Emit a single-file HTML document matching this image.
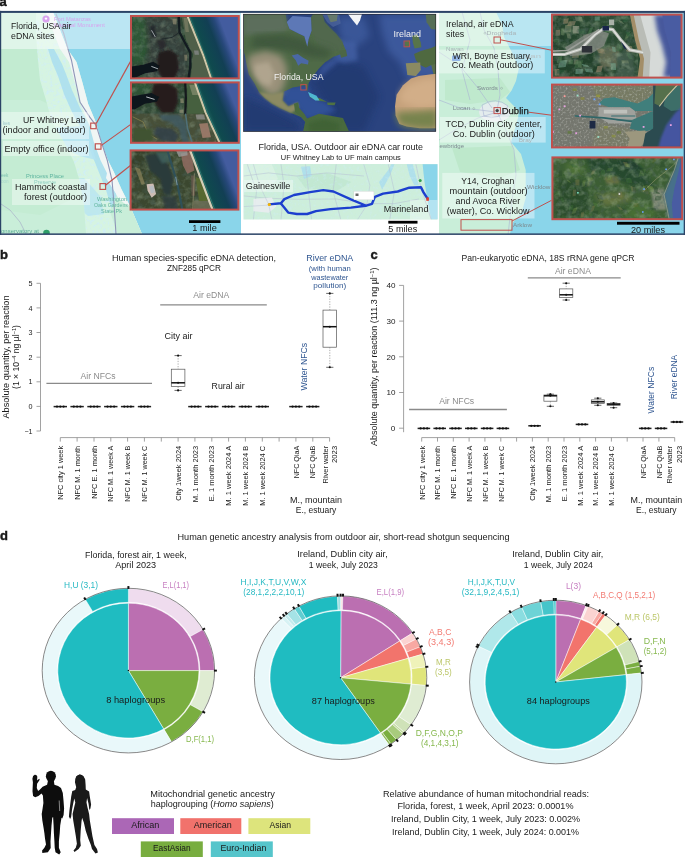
<!DOCTYPE html>
<html><head><meta charset="utf-8"><title>Figure</title>
<style>
html,body{margin:0;padding:0;background:#fff;}
svg{display:block;opacity:0.9999;will-change:opacity;}
text{font-family:"Liberation Sans",sans-serif;fill:#1a1a1a;}
.b{font-weight:bold;}
.g{fill:#8c8c8c;}
.bl{fill:#2e5590;}
</style></head><body>
<svg width="685" height="857" viewBox="0 0 685 857">
<defs>
<filter id="tx" x="0" y="0" width="100%" height="100%"><feTurbulence type="fractalNoise" baseFrequency="0.35" numOctaves="2" seed="3" result="n"/><feColorMatrix in="n" type="matrix" values="0 0 0 0 0  0 0 0 0 0  0 0 0 0 0  0.9 0 0 0 -0.25" result="a"/><feComposite in="SourceGraphic" in2="a" operator="in"/></filter>
<filter id="nzl" x="0" y="0" width="100%" height="100%"><feTurbulence type="fractalNoise" baseFrequency="0.14" numOctaves="3" seed="11"/><feColorMatrix type="matrix" values="0 0 0 0 0.36  0 0 0 0 0.46  0 0 0 0 0.32  1.8 0 0 0 -0.8"/></filter>
<filter id="nzd" x="0" y="0" width="100%" height="100%"><feTurbulence type="fractalNoise" baseFrequency="0.18" numOctaves="3" seed="23"/><feColorMatrix type="matrix" values="0 0 0 0 0.07  0 0 0 0 0.12  0 0 0 0 0.10  0 2.4 0 0 -1.15"/></filter>
<filter id="nzc" x="0" y="0" width="100%" height="100%"><feTurbulence type="fractalNoise" baseFrequency="0.5" numOctaves="2" seed="5"/><feColorMatrix type="matrix" values="0 0 0 0 0.75  0 0 0 0 0.76  0 0 0 0 0.72  2.0 0 0 0 -0.95"/></filter>
<filter id="nzk" x="0" y="0" width="100%" height="100%"><feTurbulence type="fractalNoise" baseFrequency="0.45" numOctaves="2" seed="9"/><feColorMatrix type="matrix" values="0 0 0 0 0.22  0 0 0 0 0.24  0 0 0 0 0.22  0 2.0 0 0 -0.95"/></filter>
<filter id="nzm" x="0" y="0" width="100%" height="100%"><feTurbulence type="fractalNoise" baseFrequency="0.3" numOctaves="3" seed="4"/><feColorMatrix type="matrix" values="0 0 0 0 0.62  0 0 0 0 0.85  0 0 0 0 0.95  3.2 0 0 0 -1.6"/></filter>
<filter id="b1"><feGaussianBlur stdDeviation="1"/></filter>
<filter id="b2"><feGaussianBlur stdDeviation="2"/></filter>
<filter id="b3"><feGaussianBlur stdDeviation="3.5"/></filter>
<filter id="b05"><feGaussianBlur stdDeviation="0.5"/></filter>
<clipPath id="cFl"><rect x="1" y="12" width="240" height="222"/></clipPath>
<clipPath id="cIr"><rect x="439" y="12" width="245" height="222"/></clipPath>
<clipPath id="cW"><rect x="243.5" y="14" width="192.5" height="117.5"/></clipPath>
<clipPath id="cR"><rect x="243.5" y="164" width="194" height="55.5"/></clipPath>
</defs>
<text class="b" x="-0.6" y="6" font-size="13" stroke="#111" stroke-width="0.4">a</text>
<g clip-path="url(#cFl)">
<rect x="1" y="12" width="240" height="222" fill="#c9eed9"/>
<path d="M1,49 L62,49 L70,70 L78,95 L60,110 L40,100 L1,100 Z" fill="#c2ebd1"/>
<path d="M1,150 L60,150 L80,160 L86,180 L70,200 L40,215 L1,210 Z" fill="#c4ecd3"/>
<clipPath id="cMarsh"><path d="M36,12 L53,12 L67.5,49 L76.5,62 L82.3,82 L88.2,104 L96.2,123 L101.3,142 L107.9,160 L113.9,172 L121.4,189 L130,206 L142,234 L86,234 L84,205 L80,182 L74,162 L64,142 L52,122 L46,100 L40,80 L38,60 L36,35 Z"/></clipPath>
<g clip-path="url(#cMarsh)">
<rect x="30" y="12" width="115" height="223" fill="#d6f4e2"/>
<rect x="30" y="12" width="115" height="223" fill="#fff" filter="url(#nzm)" opacity="0.85"/>
<path d="M48,49 L54,49 L62,64 L66,74 L72,90 L80,108 L90,126 L96,142 L104,160 L110,176 L116,192 L118,210 L112,210 L106,190 L98,170 L90,150 L82,130 L72,112 L64,94 L58,76 L52,62 Z" fill="#a6dcf0" opacity="0.8"/>
<path d="M50,128 L82,126 L90,140 L96,160 L80,156 L60,146 Z" fill="#b4e3f2" opacity="0.85"/>
<path d="M62,180 L84,178 L100,196 L104,214 L88,216 L70,200 Z" fill="#b4e3f2" opacity="0.7"/>
</g>
<path d="M53,12 L67.5,49 L76.5,62 L82.3,82 L88.2,104 L96.2,123 L101.3,142 L107.9,160 L113.9,172 L121.4,189 L130,206 L142,234 L241,234 L241,12 Z" fill="#8ad5ea"/>
<path d="M53,12 L67.5,49 L76.5,62 L82.3,82 L88.2,104 L96.2,123 L101.3,142 L107.9,160 L113.9,172 L121.4,189 L130,206 L142,234 L134.5,234 L122.5,206 L113.9,189 L106.4,172 L100.4,160 L93.8,142 L88.7,123 L80.7,104 L74.8,82 L69.0,62 L60.0,49 L45.5,12 Z" fill="#f1f6f4"/>
<path d="M116,196 L130,206 L142,234 L118,234 L110,212 Z" fill="#c9eed9"/>
<path d="M108,168 L120,189 L128,206 L120,200 L106,178 Z" fill="#f2f6f6"/>
<path d="M55.9,13.8 L63.6,33 L68.4,50.4 L71.4,60 L75.8,81.9 L80.1,102.3 L89.6,116.9 L96.2,125.7 L101.3,141.8 L107.2,160 L112,180 L114,204 L116,234" fill="none" stroke="#8f96b8" stroke-width="1.1"/>
<path d="M1,204 L10,210 L20,222 L26,234" fill="none" stroke="#a9b0c8" stroke-width="0.7"/>
<rect x="1" y="12" width="240" height="37" fill="#ffffff" opacity="0.42"/>
<rect x="1" y="112" width="88" height="27" fill="#ffffff" opacity="0.4"/>
<rect x="3" y="141" width="86" height="15" fill="#ffffff" opacity="0.4"/>
<rect x="12" y="179" width="78" height="26" fill="#ffffff" opacity="0.4"/>
<circle cx="46" cy="19" r="3.6" fill="#d9a3ee"/><circle cx="46" cy="18.6" r="1.2" fill="#fff"/>
<text x="54" y="20.5" font-size="5.2" style="fill:#d7a6ee" textLength="37" lengthAdjust="spacingAndGlyphs">Fort Matanzas</text>
<text x="54" y="26.5" font-size="5.2" style="fill:#d7a6ee" textLength="51" lengthAdjust="spacingAndGlyphs">National Monument</text>
<text x="26" y="178" font-size="4.8" style="fill:#5fb5a0" textLength="38" lengthAdjust="spacingAndGlyphs">Princess Place</text>
<text x="34" y="184" font-size="4.8" style="fill:#8fcfc0" textLength="22" lengthAdjust="spacingAndGlyphs">Preserve</text>
<text x="97" y="200.5" font-size="4.6" style="fill:#62b59f" textLength="30" lengthAdjust="spacingAndGlyphs">Washington</text>
<text x="94" y="206.5" font-size="4.6" style="fill:#62b59f" textLength="34" lengthAdjust="spacingAndGlyphs">Oaks Gardens</text>
<text x="101" y="212.5" font-size="4.6" style="fill:#62b59f" textLength="21" lengthAdjust="spacingAndGlyphs">State Pk</text>
<text x="1" y="233" font-size="4.6" style="fill:#5fae98" textLength="38" lengthAdjust="spacingAndGlyphs">onservatory at</text>
<circle cx="46.5" cy="233" r="3.3" fill="#2e9e68"/>
<text x="1" y="177" font-size="4.6" style="fill:#7fc2b0">eek</text>
<text x="1" y="182.5" font-size="4.6" style="fill:#a8d8cc">oon</text>
<text x="3" y="125" font-size="4.6" style="fill:#a0c8cc">kes</text>
</g>
<g fill="none" stroke="#c0504d" stroke-width="1.15">
<rect x="90.7" y="123.1" width="5.4" height="5.6"/>
<rect x="95.3" y="143.8" width="5.7" height="5.4"/>
<rect x="100" y="183.6" width="5.6" height="5.8"/>
<path d="M96.4,123.2 L130.4,61.6"/>
<path d="M101.4,145.4 L130.4,124.6"/>
<path d="M105.8,185 L130.4,165.5"/>
</g>
<text x="11" y="28.5" font-size="9" textLength="60.5" lengthAdjust="spacingAndGlyphs">Florida, USA air</text>
<text x="11" y="38.8" font-size="9" textLength="43.5" lengthAdjust="spacingAndGlyphs">eDNA sites</text>
<text x="85.5" y="122.8" font-size="9" text-anchor="end" textLength="62.5" lengthAdjust="spacingAndGlyphs">UF Whitney Lab</text>
<text x="85.5" y="133" font-size="9" text-anchor="end" textLength="83" lengthAdjust="spacingAndGlyphs">(indoor and outdoor)</text>
<text x="88.5" y="152" font-size="9" text-anchor="end" textLength="84" lengthAdjust="spacingAndGlyphs">Empty office (indoor)</text>
<text x="87" y="189.5" font-size="9" text-anchor="end" textLength="72" lengthAdjust="spacingAndGlyphs">Hammock coastal</text>
<text x="87" y="199.8" font-size="9" text-anchor="end" textLength="63" lengthAdjust="spacingAndGlyphs">forest (outdoor)</text>
<clipPath id="fs1"><rect x="131" y="16" width="107.8" height="62.4"/></clipPath>
<linearGradient id="og1" gradientUnits="userSpaceOnUse" x1="189.3" y1="17.1" x2="215.4" y2="7.2"><stop offset="0" stop-color="#1a5a58"/><stop offset="0.12" stop-color="#0f4a4e"/><stop offset="0.55" stop-color="#123f54"/><stop offset="0.8" stop-color="#27487a"/><stop offset="1" stop-color="#435c9f"/></linearGradient>
<g clip-path="url(#fs1)">
<rect x="130" y="15" width="110" height="65" fill="#2d4632"/>
<path d="M131.7,17.1 L146.6,17.1 L150.0,45.9 L143.2,62.8 L131.7,64.5 Z" fill="#2f5636" filter="url(#b2)"/>
<path d="M144.9,17.1 L178.8,17.1 L180.5,37.4 L189.0,52.6 L188.1,78.0 L144.9,78.0 L148.3,54.3 L146.6,32.3 Z" fill="#363f3b" filter="url(#b2)"/>
<path d="M181.9,17.1 L187.6,17.1 L202.5,54.3 L210.6,78.0 L191.0,78.0 L193.2,54.3 L185.9,39.1 Z" fill="#4f5f49" />
<rect x="131" y="16" width="75" height="63" fill="#fff" filter="url(#nzl)" opacity="0.5"/>
<rect x="131" y="16" width="75" height="63" fill="#fff" filter="url(#nzd)" opacity="0.6"/>
<path d="M158.5,52.6 L168.6,49.6 L177.1,54.3 L179.1,67.9 L175.4,77.7 L161.9,77.7 L156.5,67.9 Z" fill="#241b1e" filter="url(#b1)"/>
<path d="M131.7,66.5 L143.2,64.8 L153.4,61.8 L159.8,65.9 L157.1,71.3 L144.9,73.3 L134.8,78.0 L131.7,78.0 Z" fill="#0f141b" filter="url(#b05)"/>
<path d="M149.7,25.5 L155.1,26.2 L156.1,37.4 L151.7,37.4 Z" fill="#20262b" filter="url(#b1)"/>
<path d="M156.8,40.8 L163.6,39.1 L167.0,45.9 L160.2,51.0 Z" fill="#2a2c2e" filter="url(#b1)"/>
<path d="M181.9,17.1 L187.6,17.1 L202.5,54.3 L210.6,78.0 L191.0,78.0 L193.2,54.3 L185.9,39.1 Z" fill="#4f5f49" />
<path d="M178.8,17.1 L179.5,32.3 L183.9,40.8 L190.3,52.6 L190.3,66.2 L188.6,78.0" fill="none" stroke="#131b20" stroke-width="2.3" stroke-linecap="round" stroke-linejoin="round" />
<path d="M179.5,32.3 L172.0,37.4 L161.9,39.1" fill="none" stroke="#1c2428" stroke-width="0.8" stroke-linecap="round" stroke-linejoin="round" />
<path d="M172.4,19.1 L176.8,18.8 L176.4,24.5 L173.0,24.2 Z" fill="#8f8a70" opacity="0.7" filter="url(#b05)"/>
<path d="M183.5,17.8 L187.3,17.8 L189.0,32.0 L185.6,32.0 Z" fill="#7f8066" opacity="0.7" filter="url(#b05)"/>
<path d="M184.2,54.7 L186.9,54.7 L187.3,60.8 L184.6,60.8 Z" fill="#8f8a70" opacity="0.6" filter="url(#b05)"/>
<path d="M194.0,50.6 L198.4,50.6 L199.1,54.7 L194.7,54.7 Z" fill="#8a8c8e" opacity="0.7" filter="url(#b05)"/>
<path d="M189.3,17.1 L238.1,17.1 L238.1,78.0 L212.3,78.0 L204.2,54.3 Z" fill="url(#og1)" />
<path d="M187.9,17.1 L202.9,54.3 L211.0,78.0" fill="none" stroke="#cfc7a9" stroke-width="2.0" stroke-linecap="round" stroke-linejoin="round" />
<path d="M189.8,17.1 L204.5,54.3 L212.7,78.0" fill="none" stroke="#3d8a80" stroke-width="0.7" stroke-linecap="round" stroke-linejoin="round" opacity="0.7"/>
<path d="M151.7,30.6 L155.1,36.6" fill="none" stroke="#cfd6da" stroke-width="0.7" stroke-linecap="round" stroke-linejoin="round" />
<path d="M151.7,66.5 L157.6,68.7" fill="none" stroke="#cfd6da" stroke-width="0.8" stroke-linecap="round" stroke-linejoin="round" />
</g>
<rect x="131" y="16" width="107.8" height="62.4" fill="none" stroke="#c0504d" stroke-width="2"/>
<clipPath id="fs2"><rect x="131" y="82.4" width="107.8" height="60.4"/></clipPath>
<linearGradient id="og2" gradientUnits="userSpaceOnUse" x1="195.7" y1="83.1" x2="221.6" y2="72.4"><stop offset="0" stop-color="#1a5a58"/><stop offset="0.12" stop-color="#0f4a4e"/><stop offset="0.55" stop-color="#123f54"/><stop offset="0.8" stop-color="#27487a"/><stop offset="1" stop-color="#435c9f"/></linearGradient>
<g clip-path="url(#fs2)">
<rect x="130" y="81" width="110" height="64" fill="#2f4733"/>
<path d="M131.7,113.6 L205.9,113.6 L220.3,143.2 L131.7,143.2 Z" fill="#474f38" />
<path d="M131.7,83.1 L148.3,83.1 L151.7,93.2 L138.2,94.9 L131.7,98.3 Z" fill="#2f5234" filter="url(#b1)"/>
<path d="M187.3,83.1 L195.7,83.1 L206.2,111.9 L202.5,113.6 L187.6,113.6 Z" fill="#46603f" />
<rect x="131" y="82" width="85" height="62" fill="#fff" filter="url(#nzl)" opacity="0.5"/>
<rect x="131" y="82" width="85" height="62" fill="#fff" filter="url(#nzd)" opacity="0.6"/>
<path d="M153.4,84.1 L167.0,83.1 L177.1,88.2 L178.1,101.7 L173.7,112.7 L161.9,112.7 L155.1,103.4 L151.7,93.2 Z" fill="#261c1e" filter="url(#b1)"/>
<path d="M131.7,96.6 L139.9,94.9 L151.7,92.9 L159.3,97.0 L156.8,101.7 L144.9,103.7 L134.8,109.3 L131.7,109.3 Z" fill="#0f141b" filter="url(#b05)"/>
<path d="M187.3,83.1 L195.7,83.1 L206.2,111.9 L202.5,113.6 L187.6,113.6 Z" fill="#46603f" />
<path d="M185.2,83.1 L185.9,98.3 L185.2,113.6" fill="none" stroke="#15191c" stroke-width="2.2" stroke-linecap="round" stroke-linejoin="round" />
<path d="M180.2,98.7 L183.5,98.3 L183.9,103.1 L180.5,103.1 Z" fill="#8f8e72" opacity="0.7" filter="url(#b05)"/>
<path d="M179.5,109.7 L183.5,109.7 L183.5,112.9 L179.5,112.9 Z" fill="#8f8e72" opacity="0.7" filter="url(#b05)"/>
<path d="M189.3,84.8 L195.7,84.8 L199.1,94.9 L192.4,94.9 Z" fill="#7f8a6c" opacity="0.8"/>
<path d="M158.5,114.4 L178.8,114.4 L185.6,122.0 L189.0,143.2 L182.2,143.2 L178.8,128.8 L170.3,122.0 L161.9,120.3 Z" fill="#3f5a62" opacity="0.85" filter="url(#b1)"/>
<path d="M156.8,127.1 L172.0,128.8 L178.8,135.6 L175.4,142.4 L161.9,140.7 L153.4,133.9 Z" fill="#333f48" opacity="0.85" filter="url(#b1)"/>
<path d="M185.6,114.4 L187.6,128.8 L192.4,143.2" fill="none" stroke="#4f7078" stroke-width="1.6" stroke-linecap="round" stroke-linejoin="round" />
<path d="M133.1,117.0 L143.2,122.0 L148.3,133.9 L156.8,139.0" fill="none" stroke="#8a8450" stroke-width="0.9" stroke-linecap="round" stroke-linejoin="round" opacity="0.8"/>
<path d="M133.1,128.8 L151.7,128.8 L153.4,140.7 L133.1,142.4 Z" fill="#3f5230" filter="url(#b1)"/>
<path d="M199.1,123.7 L207.6,122.9 L211.0,137.3 L202.5,138.1 Z" fill="#a47e6e" opacity="0.85" filter="url(#b05)"/>
<path d="M195.7,114.4 L204.2,114.4 L205.1,119.5 L196.6,119.5 Z" fill="#8d8d88" opacity="0.8"/>
<path d="M196.1,83.1 L238.1,83.1 L238.1,143.2 L220.8,143.2 L206.2,112.7 Z" fill="url(#og2)" />
<path d="M195.1,83.1 L205.6,112.7 L219.8,143.2" fill="none" stroke="#cfc7a9" stroke-width="2.0" stroke-linecap="round" stroke-linejoin="round" />
<path d="M197.1,83.1 L207.6,112.7 L222.0,143.2" fill="none" stroke="#3d8a80" stroke-width="0.7" stroke-linecap="round" stroke-linejoin="round" opacity="0.7"/>
<path d="M146.6,97.0 L154.2,99.3" fill="none" stroke="#d5dade" stroke-width="0.9" stroke-linecap="round" stroke-linejoin="round" />
</g>
<rect x="131" y="82.4" width="107.8" height="60.4" fill="none" stroke="#c0504d" stroke-width="2"/>
<clipPath id="fs3"><rect x="130.6" y="150.4" width="107.8" height="59.2"/></clipPath>
<linearGradient id="og3" gradientUnits="userSpaceOnUse" x1="190.7" y1="150.1" x2="216.8" y2="140.1"><stop offset="0" stop-color="#1a5a58"/><stop offset="0.12" stop-color="#0f4a4e"/><stop offset="0.55" stop-color="#123f54"/><stop offset="0.8" stop-color="#27487a"/><stop offset="1" stop-color="#435c9f"/></linearGradient>
<g clip-path="url(#fs3)">
<rect x="129" y="149" width="111" height="63" fill="#3b472f"/>
<path d="M131.7,150.1 L144.9,150.1 L148.3,165.3 L138.2,178.9 L131.7,178.9 Z" fill="#34402c" filter="url(#b1)"/>
<rect x="130" y="150" width="80" height="61" fill="#fff" filter="url(#nzl)" opacity="0.55"/>
<rect x="130" y="150" width="80" height="61" fill="#fff" filter="url(#nzd)" opacity="0.6"/>
<path d="M144.9,155.2 L158.5,153.5 L168.6,165.3 L173.7,178.9 L170.3,195.8 L163.6,194.1 L160.2,178.9 L150.0,170.4 Z" fill="#2a3a3a" filter="url(#b1)"/>
<path d="M155.1,151.8 L167.8,151.8 L170.3,161.9 L161.9,163.6 Z" fill="#41625e" opacity="0.8" filter="url(#b1)"/>
<path d="M167.3,150.1 L172.4,167.0 L177.4,184.0 L182.5,210.2" fill="none" stroke="#2f5058" stroke-width="2.2" stroke-linecap="round" stroke-linejoin="round" />
<path d="M175.8,177.2 L177.1,184.8" fill="none" stroke="#b5c6cc" stroke-width="0.6" stroke-linecap="round" stroke-linejoin="round" />
<path d="M161.9,195.8 L175.4,195.8 L178.8,210.2 L165.3,210.2 Z" fill="#2d3c40" opacity="0.8" filter="url(#b1)"/>
<path d="M146.6,184.3 L153.4,183.6 L156.1,194.1 L151.7,197.8 L147.6,190.7 Z" fill="#cdbcb3" />
<path d="M149.2,186.5 L153.4,185.6 L154.8,192.4 L150.9,193.3 Z" fill="#b8bcc0" />
<path d="M134.8,167.0 L139.9,168.7 L144.9,184.0 L141.5,184.8 Z" fill="#8a8258" opacity="0.7"/>
<path d="M180.8,153.5 L191.0,151.8 L194.4,170.4 L187.3,173.8 L183.0,165.3 Z" fill="#8c6b5f" opacity="0.9" filter="url(#b05)"/>
<path d="M176.3,151.1 L187.3,150.4 L187.6,155.2 L178.8,156.9 Z" fill="#9a9a98" opacity="0.8"/>
<path d="M191.0,175.5 L194.4,175.5 L195.1,195.8 L191.7,195.8 Z" fill="#66584c" opacity="0.8"/>
<path d="M195.7,177.2 L202.5,178.9 L207.6,200.9 L199.1,200.9 Z" fill="#5a6a30" opacity="0.9"/>
<path d="M194.0,200.9 L209.3,200.9 L211.0,210.2 L193.2,210.2 Z" fill="#6d6f58" opacity="0.8"/>
<path d="M194.4,173.8 L192.7,210.2" fill="none" stroke="#a39a78" stroke-width="0.6" stroke-linecap="round" stroke-linejoin="round" />
<path d="M191.0,150.1 L238.1,150.1 L238.1,210.2 L214.0,210.2 L201.8,178.9 Z" fill="url(#og3)" />
<path d="M190.0,150.1 L200.8,178.9 L212.7,210.2" fill="none" stroke="#d5cfb8" stroke-width="2.2" stroke-linecap="round" stroke-linejoin="round" />
<path d="M192.0,150.1 L202.9,178.9 L215.0,210.2" fill="none" stroke="#4a9a8a" stroke-width="0.7" stroke-linecap="round" stroke-linejoin="round" opacity="0.7"/>
</g>
<rect x="130.6" y="150.4" width="107.8" height="59.2" fill="none" stroke="#c0504d" stroke-width="2"/>
<rect x="189" y="220.2" width="31.4" height="2.8" fill="#000"/>
<text x="204.5" y="231.2" font-size="9.4" text-anchor="middle" textLength="24.5" lengthAdjust="spacingAndGlyphs">1 mile</text>
<g clip-path="url(#cW)">
<rect x="243" y="14" width="194" height="118" fill="#2a437f"/>
<path d="M311.6,81.6 L336.2,60.2 L363.8,66.3 L379.1,97.0 L363.8,131.6 L336.2,131.6 L327.0,106.2 Z" fill="#1f3569" opacity="0.55" filter="url(#b3)"/>
<path d="M243.6,97.0 L265.7,106.2 L296.3,121.5 L302.4,131.6 L243.6,131.6 Z" fill="#213a72" filter="url(#b3)"/>
<path d="M379.1,14.2 L437.9,14.2 L437.9,78.6 L406.7,78.6 L400.5,63.2 L388.3,51.0 L382.1,32.6 Z" fill="#4260a6" opacity="0.75" filter="url(#b3)"/>
<path d="M336.2,38.7 L356.1,41.8 L357.6,60.2 L342.3,63.2 L333.1,55.6 Z" fill="#4665aa" opacity="0.7" filter="url(#b2)"/>
<path d="M337.7,17.3 L363.8,17.3 L369.9,35.7 L357.6,46.4 L340.8,38.7 Z" fill="#4564a8" opacity="0.6" filter="url(#b3)"/>
<path d="M282.5,87.8 L307.3,85.3 L311.6,97.0 L327.0,103.1 L336.2,110.8 L320.8,115.4 L305.5,119.0 L296.3,104.6 L284.0,104.6 Z" fill="#33529a" opacity="0.9" filter="url(#b2)"/>
<path d="M322.4,66.3 L336.2,55.6 L342.3,58.6 L327.0,70.9 L315.3,81.6 Z" fill="#3c5aa0" opacity="0.7" filter="url(#b2)"/>
<path d="M243.6,14.2 L285.6,14.2 L286.8,21.9 L289.6,28.9 L298.5,33.5 L304.3,36.3 L307.3,46.7 L308.6,39.3 L311.6,30.4 L311.0,17.3 L313.2,14.2 L322.4,14.2 L324.5,21.9 L330.0,28.0 L336.2,34.1 L342.3,41.8 L346.0,51.0 L339.2,54.7 L333.4,56.8 L324.8,62.6 L319.0,68.5 L313.2,75.8 L308.6,83.2 L307.3,91.8 L304.9,85.3 L301.5,85.9 L292.6,87.5 L283.7,91.8 L282.5,100.6 L288.3,106.5 L295.4,103.4 L297.8,102.5 L298.8,107.7 L304.0,113.8 L310.1,123.9 L308.0,125.2 L301.5,117.2 L291.1,112.9 L281.0,108.6 L272.1,103.7 L264.7,97.9 L258.9,92.1 L254.6,83.5 L248.8,74.6 L246.0,61.4 L244.5,54.0 L243.6,51.0 Z" fill="#506a46" filter="url(#b05)"/>
<path d="M243.6,14.2 L285.6,14.2 L286.8,21.9 L289.6,28.9 L281.0,32.6 L262.6,34.1 L243.6,35.7 Z" fill="#5b6e5c" filter="url(#b2)"/>
<path d="M313.2,14.2 L322.4,14.2 L324.5,21.9 L330.0,28.0 L336.2,34.1 L342.3,41.8 L339.2,51.0 L327.0,51.0 L315.3,41.8 L311.6,30.4 Z" fill="#51684e" filter="url(#b1)"/>
<path d="M253.4,35.7 L284.0,34.1 L304.3,38.7 L314.7,44.9 L333.1,51.0 L327.0,58.6 L308.6,57.1 L290.2,51.0 L265.7,49.5 L250.3,47.9 Z" fill="#3f593c" filter="url(#b3)"/>
<path d="M248.8,55.6 L265.7,51.0 L281.0,55.6 L287.1,67.8 L285.6,81.6 L281.0,92.4 L271.8,97.0 L263.2,90.8 L254.0,78.6 L247.9,66.3 Z" fill="#9a917a" filter="url(#b3)"/>
<path d="M254.0,64.8 L268.7,61.7 L274.9,74.0 L270.3,86.2 L261.1,83.2 L254.9,74.0 Z" fill="#b4a892" filter="url(#b2)" opacity="0.85"/>
<path d="M258.9,92.1 L272.1,93.9 L283.7,91.8 L282.5,100.6 L288.3,106.5 L295.4,103.4 L297.8,102.5 L298.8,107.7 L291.1,112.9 L281.0,108.6 L272.1,103.7 L264.7,97.9 Z" fill="#8c8a64" filter="url(#b1)"/>
<path d="M293.9,103.7 L298.2,102.5 L299.1,108.0 L304.3,114.1 L310.1,123.9 L308.0,125.2 L301.5,117.2 L295.1,111.7 Z" fill="#4a6a3e" />
<path d="M286.8,21.9 L292.6,16.0 L311.0,17.3 L311.6,30.4 L308.6,39.3 L307.3,46.7 L304.3,36.3 L298.5,33.5 L289.6,28.9 Z" fill="#5d78b6" />
<path d="M291.7,55.6 L297.8,54.0 L303.1,57.7 L308.6,60.8 L308.0,64.5 L301.2,63.2 L298.2,65.7 L295.7,60.2 Z" fill="#4a68b0" opacity="0.9"/>
<path d="M315.3,14.2 L339.2,14.2 L340.8,23.4 L333.1,27.1 L327.0,21.9 L322.4,14.2 Z" fill="#4f669c" opacity="0.7"/>
<path d="M327.0,14.2 L337.7,14.2 L336.8,20.9 L330.6,22.2 Z" fill="#667a6c" />
<path d="M339.2,51.0 L346.0,49.8 L347.2,55.9 L341.1,57.7 Z" fill="#4c6646" />
<path d="M303.1,131.6 L305.8,119.0 L319.0,113.8 L342.9,118.1 L349.0,131.6 Z" fill="#4a6a3c" filter="url(#b05)"/>
<path d="M308.6,123.0 L323.9,119.0 L339.2,123.0 L339.2,131.6 L308.6,131.6 Z" fill="#3f6236" filter="url(#b2)"/>
<path d="M308.6,96.4 L320.2,98.2 L327.0,101.9 L317.8,100.6 Z" fill="#4f7242" />
<path d="M327.0,102.5 L335.6,102.5 L334.6,105.2 L327.6,104.9 Z" fill="#4f7242" />
<path d="M308.0,92.1 L316.5,95.7 L319.6,100.6 L315.3,100.6 L309.8,96.4 Z" fill="#52c4da" opacity="0.9" filter="url(#b05)"/>
<path d="M348.1,14.2 L361.9,14.2 L360.1,20.3 L357.0,25.5 L352.7,20.3 Z" fill="#f3f5f7" />
<path d="M425.7,14.2 L437.9,14.2 L437.9,30.1 L431.2,28.9 L426.6,22.2 Z" fill="#566e56" filter="url(#b05)"/>
<path d="M412.2,35.7 L417.7,34.4 L420.8,42.4 L421.4,47.3 L414.6,48.5 L412.8,42.4 Z" fill="#57744a" />
<path d="M404.5,41.2 L409.7,39.9 L410.4,46.7 L405.4,47.6 Z" fill="#57744a" />
<path d="M414.0,54.0 L420.8,51.0 L431.2,47.9 L437.9,44.9 L437.9,68.2 L431.2,65.1 L425.7,67.8 L420.2,65.1 L415.9,60.2 Z" fill="#50693f" filter="url(#b05)"/>
<path d="M431.2,65.1 L437.9,63.2 L437.9,76.1 L433.7,74.9 Z" fill="#5a6e4a" />
<path d="M405.8,63.2 L420.2,62.6 L420.8,70.0 L415.9,76.1 L407.3,74.9 Z" fill="#8a8a62" filter="url(#b05)"/>
<path d="M411.0,78.6 L418.9,76.1 L431.2,74.3 L437.9,73.7 L437.9,128.2 L419.9,128.2 L406.7,126.4 L399.3,123.9 L395.6,115.4 L395.0,106.5 L396.6,94.8 L403.0,85.3 Z" fill="#c4a07a" filter="url(#b05)"/>
<path d="M406.7,84.7 L425.1,78.6 L437.9,78.6 L437.9,106.2 L418.9,107.7 L402.1,103.1 L399.0,95.4 Z" fill="#d2ae88" filter="url(#b3)"/>
<path d="M395.0,112.3 L418.9,110.8 L437.9,109.2 L437.9,128.9 L419.9,128.9 L406.7,127.0 L399.3,124.6 Z" fill="#77834e" filter="url(#b3)"/>
</g>
<rect x="243.6" y="14.2" width="192.2" height="117.4" fill="none" stroke="#222" stroke-width="0.6"/>
<rect x="300.8" y="84.4" width="5.4" height="5.6" fill="none" stroke="#c0504d" stroke-width="0.9"/>
<rect x="404" y="41" width="5.6" height="5.8" fill="none" stroke="#c0504d" stroke-width="0.9"/>
<text x="274" y="79.8" font-size="8.6" style="fill:#f2f2f2" textLength="49.5" lengthAdjust="spacingAndGlyphs">Florida, USA</text>
<text x="393.5" y="36.6" font-size="8.6" style="fill:#f2f2f2" textLength="27.5" lengthAdjust="spacingAndGlyphs">Ireland</text>
<text x="340.8" y="150.3" font-size="8.8" text-anchor="middle" textLength="164.5" lengthAdjust="spacingAndGlyphs">Florida, USA. Outdoor air eDNA car route</text>
<text x="340.8" y="160" font-size="7.2" text-anchor="middle" textLength="120" lengthAdjust="spacingAndGlyphs">UF Whitney Lab to UF main campus</text>
<g clip-path="url(#cR)">
<rect x="243" y="164" width="195" height="56" fill="#cdeedb"/>
<path d="M243.6,164.3 L271.8,164.3 L277.9,179.0 L265.7,191.3 L243.6,188.2 Z" fill="#d9f2e3"/>
<path d="M296.3,176.0 L327.0,172.9 L351.5,182.1 L336.2,191.3 L305.5,188.2 Z" fill="#c2e8d2"/>
<path d="M300.9,166.8 L310.1,166.2 L311.6,176.0 L304.0,179.0 Z" fill="#a9dcef" opacity="0.8"/>
<path d="M379.1,182.1 L383.7,176.0 L388.3,169.9 L391.3,164.3 L394.4,164.3 L389.8,176.0 L382.1,189.8 Z" fill="#a9dcef" opacity="0.8"/>
<path d="M406.7,164.3 L412.8,164.3 L415.9,176.0 L418.9,185.2 L414.3,185.2 L409.7,176.0 Z" fill="#a9dcef" opacity="0.8"/>
<rect x="243" y="164" width="182" height="56" fill="#fff" filter="url(#nzm)" opacity="0.35"/>
<path d="M243.6,176.0 L268.7,172.9 L296.3,176.0 L327.0,172.9 L363.8,176.0" fill="none" stroke="#b4bed2" stroke-width="0.5"/>
<path d="M243.6,195.9 L265.7,198.1 L296.3,199.3 L336.2,199.0 L366.8,203.6 L394.4,203.6 L418.9,199.0" fill="none" stroke="#b4bed2" stroke-width="0.5"/>
<path d="M281.0,164.3 L284.0,185.2 L281.0,219.5" fill="none" stroke="#b4bed2" stroke-width="0.5"/>
<path d="M336.2,164.3 L333.1,191.3 L340.8,219.5" fill="none" stroke="#b4bed2" stroke-width="0.5"/>
<path d="M388.3,164.3 L394.4,191.3 L389.8,219.5" fill="none" stroke="#b4bed2" stroke-width="0.5"/>
<path d="M247.3,164.3 L256.5,191.3 L253.4,219.5" fill="none" stroke="#b4bed2" stroke-width="0.5"/>
<path d="M422.6,164.3 L437.9,164.3 L437.9,219.5 L431.2,219.5 L427.5,200.5 L424.5,182.1 Z" fill="#8ad5ea"/>
<rect x="410" y="200" width="28" height="20" fill="#fff" opacity="0.35"/>
<path d="M253.4,199.0 L271.8,197.4 L276.4,206.6 L268.7,212.8 L253.4,211.2 Z" fill="#e9ecef" opacity="0.9"/>
<path d="M253.4,164.3 L259.5,185.2 L268.7,204.5 L271.8,219.5" fill="none" stroke="#b9c3d6" stroke-width="0.5"/>
<path d="M243.6,206.6 L268.7,205.1" fill="none" stroke="#b9c3d6" stroke-width="0.5"/>
<path d="M363.8,164.3 L369.9,185.2 L366.8,205.1 L357.6,219.5" fill="none" stroke="#b9c3d6" stroke-width="0.5"/>
<path d="M305.5,164.3 L308.6,192.2 L311.6,219.5" fill="none" stroke="#b9c3d6" stroke-width="0.5"/>
<path d="M415.9,164.3 L420.8,187.0 L431.2,219.5" fill="none" stroke="#b9c3d6" stroke-width="0.6"/>
<path d="M269.2,204.4 L280.9,203.2 L284.4,199.1 L294.0,195.0 L310.1,192.1 L323.2,190.1 L333.4,191.5 L350.9,199.4 L365.5,205.5" fill="none" stroke="#1c3fce" stroke-width="2.4" stroke-linejoin="round" stroke-linecap="round"/>
<path d="M280.9,203.5 L283.8,207.0 L288.2,212.6 L296.9,214.0 L307.2,214.0 L315.9,211.1 L330.5,209.1 L350.9,207.6 L365.5,205.8 L372.0,203.8 L374.9,196.8 L383.1,193.6 L397.7,191.5 L409.3,187.7 L421.0,187.2 L423.4,192.1 L427.2,198.2" fill="none" stroke="#1c3fce" stroke-width="2.4" stroke-linejoin="round" stroke-linecap="round"/>
<rect x="353.9" y="191.3" width="20" height="8.5" fill="#fff" stroke="#ccc" stroke-width="0.3"/>
<rect x="355.5" y="193.5" width="3" height="2.5" fill="#666"/>
<circle cx="269.3" cy="204.5" r="1.6" fill="#f4b400"/>
<circle cx="420.2" cy="180.6" r="1.5" fill="#2e9e4a"/>
<rect x="426.3" y="197.4" width="2.6" height="3.4" fill="#e03a2e"/>
<rect x="244" y="180" width="49" height="12" fill="#fff" opacity="0.35"/>
</g>
<text x="245.8" y="189.4" font-size="9.8" textLength="44.6" lengthAdjust="spacingAndGlyphs">Gainesville</text>
<text x="383.8" y="211.6" font-size="9.8" textLength="44.6" lengthAdjust="spacingAndGlyphs">Marineland</text>
<rect x="388.3" y="220.8" width="29.2" height="2.8" fill="#000"/>
<text x="402.8" y="232" font-size="9.4" text-anchor="middle" textLength="29" lengthAdjust="spacingAndGlyphs">5 miles</text>
<g clip-path="url(#cIr)">
<rect x="439" y="12" width="246" height="223" fill="#8ad5ea"/>
<path d="M439,12 L496,12 L502,24 L504,37 L510,48.6 L519,67.6 L516,81 L511.6,90.4 L506,98 L513.5,105.6 L519,111 L518,118 L511,142 L521,154 L525.7,170 L525.7,198 L521.8,212 L513,222.6 L509.6,235 L439,235 Z" fill="#c9eed9"/>
<path d="M445,80 L500,78 L510,92 L500,100 L470,104 L445,100 Z" fill="#bfe9cd"/>
<path d="M452,148 L512,146 L520,170 L500,178 L460,172 Z" fill="#bde8cb"/>
<ellipse cx="495" cy="112" rx="16" ry="10" fill="#e6ebee" opacity="0.9"/>
<g fill="none" stroke="#a9b3d4" stroke-width="0.6">
<path d="M480,12 L484,30 L494,48 L498,70 L500,95 L497,110"/>
<path d="M439,52 L460,66 L478,88 L492,108"/>
<path d="M439,100 L460,108 L480,110 L496,112"/>
<path d="M439,140 L455,130 L478,118 L494,113"/>
<path d="M497,112 L506,130 L514,150 L516,175 L512,200 L508,235"/>
<path d="M462,12 L470,40 L462,70 L470,100"/>
<path d="M482,105 Q496,96 508,106 Q500,122 484,116 Z"/>
</g>
<rect x="439" y="12" width="113" height="34" fill="#fff" opacity="0.4"/>
<rect x="439" y="49.6" width="105.8" height="23.8" fill="#fff" opacity="0.42"/>
<rect x="440" y="117" width="105.7" height="25.6" fill="#fff" opacity="0.42"/>
<rect x="442.3" y="172.9" width="92.2" height="45.6" fill="#fff" opacity="0.42"/>
<text x="486.5" y="35" font-size="5.4" style="fill:#a9b4b8" textLength="29.8" lengthAdjust="spacingAndGlyphs">Drogheda</text>
<circle cx="485" cy="33.2" r="1" fill="none" stroke="#9aa" stroke-width="0.4"/>
<text x="446" y="50.5" font-size="5.4" style="fill:#a9b4b8" textLength="17.8" lengthAdjust="spacingAndGlyphs">Navan</text>
<text x="476.9" y="90" font-size="5.4" style="fill:#7d8b90" textLength="21.0" lengthAdjust="spacingAndGlyphs">Swords</text>
<circle cx="501.5" cy="88.3" r="1" fill="none" stroke="#899" stroke-width="0.4"/>
<text x="452.8" y="110.3" font-size="5.4" style="fill:#7d8b90" textLength="17.4" lengthAdjust="spacingAndGlyphs">Lucan</text>
<circle cx="473.8" cy="108.6" r="1" fill="none" stroke="#899" stroke-width="0.4"/>
<text x="518.8" y="142" font-size="5.4" style="fill:#a9b4b8" textLength="13.2" lengthAdjust="spacingAndGlyphs">Bray</text>
<text x="439.5" y="147.6" font-size="5.4" style="fill:#7d8b90" textLength="24.5" lengthAdjust="spacingAndGlyphs">ewbridge</text>
<text x="527" y="188.6" font-size="5.4" style="fill:#7d8b90" textLength="23.5" lengthAdjust="spacingAndGlyphs">Wicklow</text>
<text x="512.9" y="226.6" font-size="5.4" style="fill:#7d8b90" textLength="19.1" lengthAdjust="spacingAndGlyphs">Arklow</text>
<text x="525" y="58" font-size="5.4" style="fill:#b9c3c6" textLength="16.0" lengthAdjust="spacingAndGlyphs">gan</text>
<rect x="452" y="55.5" width="8.5" height="5.6" rx="1" fill="#7aa0e6" opacity="0.75"/>
</g>
<g fill="none" stroke="#c0504d" stroke-width="1">
<rect x="494" y="37" width="6.4" height="6"/>
<rect x="494" y="107.6" width="6.4" height="6"/>
<rect x="461" y="219.6" width="51" height="10.6"/>
<path d="M500.6,39.8 L551.4,50.2"/>
<path d="M528.7,112.2 L551.4,115.2"/>
<path d="M512,221 L551.4,200.4"/>
</g>
<circle cx="497.2" cy="110.6" r="1.7" fill="#444"/>
<text x="446.1" y="26.9" font-size="9" textLength="67.4" lengthAdjust="spacingAndGlyphs">Ireland, air eDNA</text>
<text x="446.1" y="36.5" font-size="9" textLength="18.1" lengthAdjust="spacingAndGlyphs">sites</text>
<text x="452.8" y="58.8" font-size="9" textLength="78.7" lengthAdjust="spacingAndGlyphs">WRI, Boyne Estuary,</text>
<text x="451.8" y="68.3" font-size="9" textLength="81.6" lengthAdjust="spacingAndGlyphs">Co. Meath (outdoor)</text>
<text x="501.7" y="113.6" font-size="9.4" textLength="27" lengthAdjust="spacingAndGlyphs" stroke="#1a1a1a" stroke-width="0.25">Dublin</text>
<text x="445.6" y="127.4" font-size="9" textLength="96.4" lengthAdjust="spacingAndGlyphs">TCD, Dublin City center,</text>
<text x="452.8" y="136.9" font-size="9" textLength="81.9" lengthAdjust="spacingAndGlyphs">Co. Dublin (outdoor)</text>
<text x="461.3" y="183.8" font-size="9" textLength="53.1" lengthAdjust="spacingAndGlyphs">Y14, Croghan</text>
<text x="449.5" y="193.8" font-size="9" textLength="78.2" lengthAdjust="spacingAndGlyphs">mountain (outdoor)</text>
<text x="455.6" y="203.9" font-size="9" textLength="64.5" lengthAdjust="spacingAndGlyphs">and Avoca River</text>
<text x="446.7" y="213.8" font-size="9" textLength="82.9" lengthAdjust="spacingAndGlyphs">(water), Co. Wicklow</text>
<clipPath id="is1"><rect x="552" y="14.6" width="129.6" height="63"/></clipPath><g clip-path="url(#is1)">
<rect x="551" y="13.6" width="131.6" height="65" fill="#2b4a32"/>
<path d="M552.0,14.6 L590.9,14.6 L598.7,33.5 L577.9,49.3 L552.0,52.4 Z" fill="#27452f" filter="url(#b2)"/>
<path d="M552.0,60.0 L590.9,52.4 L610.3,61.9 L603.8,77.6 L552.0,77.6 Z" fill="#24402c" filter="url(#b2)"/>
<path d="M598.7,49.3 L616.8,46.1 L623.3,65.0 L606.4,71.3 L598.7,61.9 Z" fill="#6b6f58" opacity="0.85" filter="url(#b1)"/>
<path d="M616.8,53.7 L632.4,49.3 L634.9,77.6 L616.8,77.6 Z" fill="#3f5a48" filter="url(#b1)"/>
<path d="M572.7,25.9 L579.2,25.9 L579.2,33.5 L572.7,33.5 Z" fill="#8a917e" opacity="0.8"/>
<path d="M583.1,34.8 L588.3,33.5 L589.6,41.1 L584.4,41.7 Z" fill="#7a7a68" opacity="0.8"/>
<path d="M569.9,45.5 L574.8,45.8 L575.5,51.3 L570.5,51.0 Z" fill="#4f7a52" opacity="0.6"/>
<path d="M597.5,66.1 L602.9,65.4 L601.3,71.7 L595.9,72.5 Z" fill="#a08a72" opacity="0.6"/>
<path d="M592.7,45.8 L597.7,45.1 L596.3,52.7 L591.3,53.4 Z" fill="#1f3a28" opacity="0.6"/>
<path d="M617.2,44.3 L623.9,43.2 L621.6,50.4 L615.0,51.5 Z" fill="#3f6a45" opacity="0.6"/>
<path d="M574.6,16.4 L581.8,16.9 L582.9,21.6 L575.8,21.0 Z" fill="#7a8a6a" opacity="0.6"/>
<path d="M605.7,66.8 L610.7,66.7 L610.4,73.5 L605.4,73.6 Z" fill="#1f3a28" opacity="0.6"/>
<path d="M618.1,20.1 L621.9,21.3 L624.3,24.2 L620.5,23.1 Z" fill="#7a8a6a" opacity="0.6"/>
<path d="M610.6,63.1 L615.7,63.3 L616.1,69.9 L610.9,69.7 Z" fill="#6fa08a" opacity="0.6"/>
<path d="M596.0,47.7 L603.3,48.8 L605.5,53.9 L598.2,52.8 Z" fill="#9a8a6a" opacity="0.6"/>
<path d="M626.5,52.7 L630.5,53.8 L632.9,59.6 L628.9,58.4 Z" fill="#4f7a52" opacity="0.6"/>
<path d="M605.7,26.6 L612.7,26.0 L611.6,32.3 L604.5,32.8 Z" fill="#4f7a52" opacity="0.6"/>
<path d="M588.2,50.8 L593.7,49.7 L591.4,55.5 L586.0,56.6 Z" fill="#1f3a28" opacity="0.6"/>
<path d="M553.5,38.8 L558.6,39.1 L559.2,42.5 L554.1,42.2 Z" fill="#3f6a45" opacity="0.6"/>
<path d="M580.4,47.8 L586.1,47.3 L585.0,55.1 L579.3,55.6 Z" fill="#5a7a52" opacity="0.6"/>
<path d="M627.1,32.2 L630.6,31.0 L628.2,38.0 L624.6,39.1 Z" fill="#5a7a52" opacity="0.6"/>
<path d="M625.0,31.1 L629.5,32.3 L631.9,37.3 L627.5,36.1 Z" fill="#2a5a3a" opacity="0.6"/>
<path d="M575.6,69.0 L582.9,68.9 L582.7,73.8 L575.4,73.9 Z" fill="#6fa08a" opacity="0.6"/>
<path d="M581.0,63.7 L587.4,64.9 L589.8,67.4 L583.5,66.2 Z" fill="#6fa08a" opacity="0.6"/>
<path d="M572.4,50.6 L578.9,50.4 L578.6,57.8 L572.1,58.0 Z" fill="#9a8a6a" opacity="0.6"/>
<path d="M591.2,45.7 L594.5,45.9 L594.9,50.7 L591.6,50.5 Z" fill="#3f6a45" opacity="0.6"/>
<path d="M580.3,48.0 L584.1,47.6 L583.3,54.0 L579.4,54.4 Z" fill="#2a5a3a" opacity="0.6"/>
<path d="M603.1,34.6 L609.5,33.4 L607.0,41.0 L600.6,42.2 Z" fill="#3f6a45" opacity="0.6"/>
<path d="M623.8,15.8 L628.7,15.3 L627.6,21.7 L622.7,22.2 Z" fill="#2a5a3a" opacity="0.6"/>
<path d="M565.3,25.1 L572.0,24.5 L570.8,32.0 L564.1,32.6 Z" fill="#7a8a6a" opacity="0.6"/>
<path d="M559.9,60.7 L567.5,59.8 L565.6,66.9 L558.0,67.8 Z" fill="#6fa08a" opacity="0.6"/>
<path d="M568.7,60.2 L573.1,60.0 L572.7,64.2 L568.4,64.3 Z" fill="#4f7a52" opacity="0.6"/>
<path d="M559.7,32.9 L564.4,32.7 L564.1,39.7 L559.3,39.8 Z" fill="#1f3a28" opacity="0.6"/>
<path d="M558.0,56.7 L562.2,56.1 L561.0,62.3 L556.8,62.9 Z" fill="#4f7a52" opacity="0.6"/>
<path d="M554.5,68.9 L559.2,69.1 L559.6,75.7 L554.9,75.5 Z" fill="#9a8a6a" opacity="0.6"/>
<path d="M577.6,61.5 L581.2,61.8 L581.7,67.4 L578.0,67.2 Z" fill="#7a8a6a" opacity="0.6"/>
<path d="M573.9,59.6 L578.4,59.4 L578.0,64.3 L573.5,64.5 Z" fill="#7a8a6a" opacity="0.6"/>
<path d="M594.7,16.6 L599.8,16.6 L599.7,20.6 L594.6,20.7 Z" fill="#6fa08a" opacity="0.6"/>
<path d="M584.6,68.5 L592.1,69.1 L593.4,72.6 L585.9,72.0 Z" fill="#6fa08a" opacity="0.6"/>
<path d="M624.4,45.4 L631.7,46.3 L633.5,52.4 L626.3,51.5 Z" fill="#9a8a6a" opacity="0.6"/>
<path d="M561.0,28.5 L564.4,28.5 L564.5,35.2 L561.1,35.1 Z" fill="#5a7a52" opacity="0.6"/>
<path d="M619.4,65.6 L625.3,66.2 L626.5,68.8 L620.7,68.2 Z" fill="#1f3a28" opacity="0.6"/>
<path d="M589.8,28.2 L593.2,27.0 L590.8,33.7 L587.5,34.8 Z" fill="#4f7a52" opacity="0.6"/>
<path d="M577.7,28.9 L584.8,29.6 L586.3,34.2 L579.1,33.5 Z" fill="#2a5a3a" opacity="0.6"/>
<path d="M568.6,21.5 L575.9,20.9 L574.5,25.2 L567.2,25.9 Z" fill="#9a8a6a" opacity="0.6"/>
<path d="M621.3,60.3 L628.3,60.6 L628.9,63.5 L622.0,63.2 Z" fill="#7a8a6a" opacity="0.6"/>
<path d="M555.8,30.0 L560.2,29.8 L559.8,35.5 L555.4,35.7 Z" fill="#a08a72" opacity="0.6"/>
<path d="M576.3,61.1 L583.4,59.9 L581.1,67.6 L573.9,68.8 Z" fill="#3f6a45" opacity="0.6"/>
<path d="M557.1,69.9 L564.3,69.9 L564.3,73.4 L557.2,73.4 Z" fill="#2a5a3a" opacity="0.6"/>
<path d="M563.8,18.7 L568.8,18.2 L567.8,23.5 L562.8,24.0 Z" fill="#9a8a6a" opacity="0.6"/>
<path d="M566.4,33.2 L570.2,33.8 L571.3,38.8 L567.5,38.3 Z" fill="#7a8a6a" opacity="0.6"/>
<path d="M611.8,46.7 L615.2,47.1 L616.0,51.9 L612.6,51.5 Z" fill="#6fa08a" opacity="0.6"/>
<rect x="552" y="14.6" width="85.5" height="63" fill="#fff" filter="url(#nzl)" opacity="0.6"/>
<rect x="552" y="14.6" width="85.5" height="63" fill="#fff" filter="url(#nzd)" opacity="0.6"/>
<path d="M629.8,14.6 L681.6,14.6 L681.6,77.6 L637.5,77.6 L640.1,58.7 L634.9,39.8 Z" fill="#a38e68" />
<path d="M633.6,14.6 L681.6,14.6 L681.6,77.6 L642.7,77.6 L644.0,58.7 L638.8,39.8 Z" fill="#b9bcb6" />
<path d="M640.1,14.6 L681.6,14.6 L681.6,77.6 L649.2,77.6 L650.5,52.4 L645.3,33.5 Z" fill="#d6dad8" filter="url(#b05)"/>
<path d="M654.4,14.6 L681.6,14.6 L681.6,77.6 L663.5,77.6 L666.0,61.9 L662.2,46.1 L657.0,30.4 Z" fill="#46599c" filter="url(#b2)"/>
<path d="M662.2,14.6 L681.6,14.6 L681.6,77.6 L669.9,77.6 L671.2,52.4 L664.8,30.4 Z" fill="#4a5ca2" filter="url(#b05)"/>
<path d="M565.0,47.4 L583.1,36.0 L598.7,29.7 L609.0,33.5 L603.8,46.1 L590.9,53.7 L570.1,56.2 Z" fill="#8a8e88" opacity="0.75" filter="url(#b05)"/>
<path d="M552.0,54.3 L565.0,54.3 L580.5,49.3 L594.8,34.8 L603.8,28.5 L612.9,29.7 L620.7,39.8 L629.8,49.9 L642.7,52.4" fill="none" stroke="#b9bcb6" stroke-width="3.2" stroke-linejoin="round" stroke-linecap="round" />
<path d="M552.0,54.3 L565.0,54.3 L580.5,49.3 L594.8,34.8 L603.8,28.5 L612.9,29.7 L620.7,39.8 L629.8,49.9 L642.7,52.4" fill="none" stroke="#e2e4e0" stroke-width="1.2" stroke-linejoin="round" stroke-linecap="round" />
<path d="M552.0,51.1 L567.6,50.5 L588.3,37.3 L598.7,29.7" fill="none" stroke="#9a9e98" stroke-width="1.6" stroke-linejoin="round" stroke-linecap="round" />
<path d="M581.8,46.1 L592.2,46.1 L592.2,52.4 L581.8,52.4 Z" fill="#2e3238" />
<path d="M602.5,25.9 L609.0,25.9 L609.0,30.4 L602.5,30.4 Z" fill="#18244a" />
<path d="M620.7,41.1 L624.6,46.1 L627.2,49.9 L623.9,48.0 Z" fill="#18244a" />
<path d="M609.0,19.6 L614.2,19.6 L614.2,25.3 L609.0,25.3 Z" fill="#c9ccc6" opacity="0.8"/>
</g>
<rect x="552" y="14.6" width="129.6" height="63" fill="none" stroke="#c0504d" stroke-width="2"/>
<clipPath id="is2"><rect x="552" y="84.6" width="129.6" height="62.8"/></clipPath><g clip-path="url(#is2)">
<rect x="551" y="83.6" width="131.6" height="64.8" fill="#74766d"/>
<path d="M590.9,84.6 L653.1,84.6 L653.1,93.4 L647.9,98.4 L637.5,103.4 L627.2,100.9 L614.2,97.2 L603.8,98.4 L596.1,97.2 Z" fill="#767a62" filter="url(#b05)"/>
<path d="M598.7,123.5 L629.8,128.6 L629.8,147.4 L590.9,147.4 Z" fill="#787a66" filter="url(#b1)"/>
<rect x="552" y="84.6" width="129.6" height="62.8" fill="#fff" filter="url(#nzc)" opacity="0.55"/>
<rect x="552" y="84.6" width="129.6" height="62.8" fill="#fff" filter="url(#nzk)" opacity="0.55"/>
<rect x="572.7" y="88.4" width="4" height="2.6" fill="#7f8a3a" opacity="0.75"/>
<rect x="580.5" y="97.2" width="4" height="2.6" fill="#8a8a3a" opacity="0.75"/>
<rect x="596.1" y="94.6" width="4" height="2.6" fill="#9a9a3a" opacity="0.75"/>
<rect x="567.6" y="131.1" width="4" height="2.6" fill="#5f7a3a" opacity="0.75"/>
<rect x="603.8" y="126.0" width="4" height="2.6" fill="#8a9040" opacity="0.75"/>
<rect x="611.6" y="134.8" width="4" height="2.6" fill="#8a9040" opacity="0.75"/>
<rect x="616.8" y="131.1" width="4" height="2.6" fill="#6a7a3a" opacity="0.75"/>
<rect x="632.4" y="133.6" width="4" height="2.6" fill="#5f7a4a" opacity="0.75"/>
<path d="M598.7,103.4 L603.8,98.4 L614.2,97.2 L627.2,100.9 L637.5,103.4 L647.9,98.4 L653.1,93.4 L653.1,111.0 L634.9,111.0 L629.8,107.2 L609.0,107.2 Z" fill="#3f7f7c" filter="url(#b05)"/>
<path d="M598.7,107.2 L629.8,107.2 L634.9,111.0 L637.5,123.5 L609.0,123.5 L598.7,117.3 Z" fill="#9fa19c" />
<path d="M603.8,109.7 L627.2,109.7 L627.2,113.5 L603.8,113.5 Z" fill="#c2c4c0" opacity="0.9"/>
<path d="M611.6,116.0 L634.9,116.0" fill="none" stroke="#356e70" stroke-width="1.1" stroke-linejoin="round" stroke-linecap="round" />
<path d="M616.8,119.8 L632.4,120.4" fill="none" stroke="#356e70" stroke-width="0.9" stroke-linejoin="round" stroke-linecap="round" />
<path d="M575.3,116.0 L603.8,117.9 L637.5,122.3" fill="none" stroke="#2f6668" stroke-width="1.6" stroke-linejoin="round" stroke-linecap="round" />
<path d="M632.4,119.8 L653.1,111.0 L653.1,129.8 L642.7,131.7 L629.8,128.6 Z" fill="#3a7775" filter="url(#b05)"/>
<path d="M589.6,121.0 L595.4,121.0 L595.4,128.6 L589.6,128.6 Z" fill="#1d2a44" />
<path d="M624.6,131.7 L645.3,130.4 L647.9,138.6 L640.1,147.4 L627.2,147.4 L629.8,138.6 Z" fill="#9c977e" filter="url(#b05)"/>
<path d="M653.1,84.6 L681.6,84.6 L681.6,147.4 L642.7,147.4 L645.3,133.6 L653.1,128.6 Z" fill="#2b4b50" />
<path d="M668.6,84.6 L681.6,84.6 L681.6,109.7 L671.2,111.0 L663.5,106.0 Z" fill="#3d6e68" filter="url(#b05)"/>
<path d="M655.7,84.6 L677.7,84.6 L667.3,95.9 L659.6,106.0 L654.4,103.4 Z" fill="#55704c" />
<path d="M677.7,84.6 L667.3,95.9 L659.6,106.0" fill="none" stroke="#cfc5a2" stroke-width="1.1" stroke-linejoin="round" stroke-linecap="round" />
<path d="M681.6,107.2 L675.1,112.9 L666.0,125.4 L660.9,138.0 L658.3,147.4 L681.6,147.4 Z" fill="#4454a0" filter="url(#b1)"/>
<rect x="563.7" y="95.3" width="1.8" height="1.8" fill="#ff9a9a"/>
<rect x="576.6" y="94.6" width="1.8" height="1.8" fill="#9be0c8"/>
<rect x="563.7" y="105.3" width="1.8" height="1.8" fill="#e6a0e0"/>
<rect x="558.5" y="108.5" width="1.8" height="1.8" fill="#e6a0e0"/>
<rect x="593.5" y="98.4" width="1.8" height="1.8" fill="#6aa0ff"/>
<rect x="598.7" y="103.4" width="1.8" height="1.8" fill="#6aa0ff"/>
<rect x="579.2" y="114.7" width="1.8" height="1.8" fill="#e6a0e0"/>
<rect x="552.0" y="131.1" width="1.8" height="1.8" fill="#e6a0e0"/>
<rect x="575.3" y="132.3" width="1.8" height="1.8" fill="#e6a0e0"/>
<rect x="597.4" y="136.1" width="1.8" height="1.8" fill="#9be0c8"/>
<rect x="642.7" y="126.0" width="1.8" height="1.8" fill="#e6a0e0"/>
<rect x="669.9" y="124.2" width="1.8" height="1.8" fill="#e6a0e0"/>
</g>
<rect x="552" y="84.6" width="129.6" height="62.8" fill="none" stroke="#c0504d" stroke-width="2"/>
<clipPath id="is3"><rect x="552.4" y="157.4" width="129.8" height="61.8"/></clipPath><g clip-path="url(#is3)">
<rect x="551.4" y="156.4" width="131.8" height="63.8" fill="#3c5e34"/>
<path d="M584.9,157.4 L623.8,157.4 L645.9,172.8 L653.6,188.3 L630.3,185.2 L610.8,175.9 L591.3,169.8 Z" fill="#284a2e" filter="url(#b2)"/>
<path d="M558.9,179.0 L584.9,180.9 L591.3,206.8 L575.8,219.2 L555.0,213.0 Z" fill="#2b4c2c" filter="url(#b2)"/>
<path d="M617.3,160.5 L632.9,160.5 L643.3,169.8 L627.7,169.8 Z" fill="#22402e" filter="url(#b1)"/>
<path d="M593.9,194.5 L623.8,191.4 L632.9,200.7 L604.3,206.8 Z" fill="#6a7842" opacity="0.8" filter="url(#b2)"/>
<path d="M565.4,163.6 L581.0,162.3 L584.9,172.8 L568.0,175.9 Z" fill="#4f7238" opacity="0.9" filter="url(#b2)"/>
<path d="M632.9,201.9 L656.2,206.8 L653.6,219.2 L623.8,219.2 Z" fill="#4a7036" opacity="0.9" filter="url(#b2)"/>
<path d="M604.3,177.2 L617.3,175.9 L619.9,183.4 L606.9,184.6 Z" fill="#7a7a4a" opacity="0.7" filter="url(#b1)"/>
<path d="M651.0,189.5 L664.0,188.3 L666.6,209.9 L653.6,209.9 Z" fill="#8b9080" opacity="0.85" filter="url(#b1)"/>
<path d="M577.7,210.9 L580.8,209.9 L578.6,216.0 L575.6,217.0 Z" fill="#2a4a2c" opacity="0.5"/>
<path d="M643.0,185.6 L647.1,185.5 L647.1,188.1 L642.9,188.2 Z" fill="#5a6a30" opacity="0.5"/>
<path d="M607.7,168.1 L613.5,167.4 L612.1,170.9 L606.3,171.6 Z" fill="#4f7a3c" opacity="0.5"/>
<path d="M630.7,186.3 L635.1,186.9 L636.3,192.2 L631.8,191.6 Z" fill="#7a7a4a" opacity="0.5"/>
<path d="M581.2,212.6 L584.1,212.2 L583.4,217.3 L580.6,217.6 Z" fill="#7a7a4a" opacity="0.5"/>
<path d="M558.9,170.4 L561.8,170.5 L561.9,176.3 L559.0,176.2 Z" fill="#2a4a2c" opacity="0.5"/>
<path d="M617.3,165.3 L620.2,165.3 L620.1,171.3 L617.3,171.3 Z" fill="#2a4a2c" opacity="0.5"/>
<path d="M568.9,205.3 L573.3,205.1 L573.0,209.9 L568.7,210.0 Z" fill="#3a6a34" opacity="0.5"/>
<path d="M592.2,206.2 L595.3,205.2 L593.2,211.5 L590.1,212.5 Z" fill="#7a7a4a" opacity="0.5"/>
<path d="M587.4,177.3 L592.5,177.6 L593.2,181.6 L588.1,181.3 Z" fill="#6a8a44" opacity="0.5"/>
<path d="M569.2,186.8 L573.7,187.8 L575.8,189.5 L571.3,188.5 Z" fill="#3a6a34" opacity="0.5"/>
<path d="M654.3,187.7 L658.3,187.2 L657.2,193.5 L653.3,194.1 Z" fill="#2a4a2c" opacity="0.5"/>
<path d="M582.2,180.9 L586.3,181.9 L588.3,186.5 L584.2,185.5 Z" fill="#2a4a2c" opacity="0.5"/>
<path d="M625.8,163.9 L632.0,162.7 L629.6,169.5 L623.3,170.7 Z" fill="#24442a" opacity="0.5"/>
<path d="M570.3,163.9 L576.0,164.7 L577.8,167.8 L572.1,166.9 Z" fill="#3a6a34" opacity="0.5"/>
<path d="M601.0,170.3 L605.2,170.1 L604.8,174.4 L600.6,174.6 Z" fill="#3a6a34" opacity="0.5"/>
<path d="M560.2,197.3 L562.9,197.9 L564.3,202.2 L561.6,201.5 Z" fill="#3a6a34" opacity="0.5"/>
<path d="M592.6,202.3 L597.2,203.5 L599.7,207.4 L595.1,206.2 Z" fill="#4f7a3c" opacity="0.5"/>
<path d="M573.6,208.2 L577.5,207.2 L575.5,213.1 L571.6,214.0 Z" fill="#6a8a44" opacity="0.5"/>
<path d="M591.6,211.1 L594.2,210.4 L592.7,216.6 L590.1,217.4 Z" fill="#3a6a34" opacity="0.5"/>
<path d="M556.1,211.1 L561.7,211.3 L562.1,217.2 L556.5,217.0 Z" fill="#2a4a2c" opacity="0.5"/>
<path d="M590.1,181.4 L593.1,180.7 L591.7,184.6 L588.6,185.3 Z" fill="#24442a" opacity="0.5"/>
<path d="M605.2,166.0 L608.3,165.9 L608.0,170.6 L605.0,170.7 Z" fill="#2a4a2c" opacity="0.5"/>
<path d="M632.7,186.0 L635.6,186.2 L636.0,191.9 L633.0,191.8 Z" fill="#24442a" opacity="0.5"/>
<path d="M592.7,169.9 L596.0,169.0 L594.0,174.1 L590.6,175.0 Z" fill="#7a7a4a" opacity="0.5"/>
<path d="M552.9,190.8 L559.0,191.6 L560.7,195.7 L554.6,194.9 Z" fill="#3a6a34" opacity="0.5"/>
<path d="M562.8,211.2 L568.4,211.7 L569.4,215.6 L563.9,215.1 Z" fill="#2a4a2c" opacity="0.5"/>
<path d="M608.4,175.4 L612.5,174.7 L610.9,179.8 L606.8,180.6 Z" fill="#6a8a44" opacity="0.5"/>
<path d="M620.8,208.0 L626.3,209.1 L628.8,213.9 L623.3,212.7 Z" fill="#2a4a2c" opacity="0.5"/>
<path d="M623.0,161.8 L627.2,162.6 L628.8,167.1 L624.6,166.3 Z" fill="#7a7a4a" opacity="0.5"/>
<path d="M647.3,186.1 L652.4,186.8 L653.8,192.1 L648.8,191.4 Z" fill="#6a8a44" opacity="0.5"/>
<path d="M625.1,163.5 L629.6,163.7 L630.0,167.4 L625.6,167.1 Z" fill="#6a8a44" opacity="0.5"/>
<path d="M575.3,179.5 L579.4,179.5 L579.5,185.4 L575.4,185.3 Z" fill="#7a7a4a" opacity="0.5"/>
<path d="M633.7,203.1 L638.6,202.9 L638.2,206.9 L633.3,207.1 Z" fill="#5a6a30" opacity="0.5"/>
<path d="M644.2,185.6 L647.2,185.6 L647.1,188.7 L644.2,188.7 Z" fill="#24442a" opacity="0.5"/>
<path d="M582.6,180.7 L585.7,180.2 L584.5,186.3 L581.5,186.9 Z" fill="#6a8a44" opacity="0.5"/>
<path d="M583.0,203.3 L586.6,203.6 L587.3,209.5 L583.7,209.1 Z" fill="#2a4a2c" opacity="0.5"/>
<path d="M592.7,211.1 L598.4,210.5 L597.1,216.3 L591.4,217.0 Z" fill="#24442a" opacity="0.5"/>
<path d="M642.9,186.6 L646.3,185.6 L644.2,190.9 L640.9,191.9 Z" fill="#4f7a3c" opacity="0.5"/>
<path d="M595.7,193.8 L601.3,194.9 L603.5,200.0 L597.9,198.9 Z" fill="#24442a" opacity="0.5"/>
<path d="M654.0,158.6 L657.3,157.6 L655.2,162.1 L651.9,163.1 Z" fill="#5a6a30" opacity="0.5"/>
<path d="M649.4,207.8 L655.6,208.0 L656.1,210.6 L649.9,210.3 Z" fill="#24442a" opacity="0.5"/>
<path d="M661.9,161.1 L667.6,160.0 L665.4,166.6 L659.7,167.7 Z" fill="#2a4a2c" opacity="0.5"/>
<path d="M625.4,177.8 L631.2,178.3 L632.4,183.3 L626.5,182.7 Z" fill="#3a6a34" opacity="0.5"/>
<path d="M640.6,169.8 L646.1,168.7 L643.9,175.8 L638.4,176.9 Z" fill="#4f7a3c" opacity="0.5"/>
<path d="M654.7,191.3 L659.0,192.3 L661.0,194.4 L656.8,193.4 Z" fill="#2a4a2c" opacity="0.5"/>
<path d="M600.5,200.9 L603.5,200.4 L602.4,204.2 L599.5,204.7 Z" fill="#2a4a2c" opacity="0.5"/>
<path d="M590.0,168.5 L596.3,169.2 L597.8,171.1 L591.5,170.4 Z" fill="#2a4a2c" opacity="0.5"/>
<path d="M644.5,188.5 L648.4,189.1 L649.6,194.3 L645.7,193.7 Z" fill="#5a6a30" opacity="0.5"/>
<path d="M564.8,197.3 L567.7,198.0 L569.0,200.3 L566.1,199.7 Z" fill="#2a4a2c" opacity="0.5"/>
<path d="M588.9,180.1 L592.1,179.0 L589.9,185.4 L586.6,186.5 Z" fill="#5a6a30" opacity="0.5"/>
<path d="M617.8,191.5 L622.0,191.7 L622.4,197.5 L618.2,197.3 Z" fill="#7a7a4a" opacity="0.5"/>
<path d="M655.4,195.9 L661.8,195.6 L661.1,200.2 L654.7,200.5 Z" fill="#24442a" opacity="0.5"/>
<path d="M639.4,167.8 L643.1,168.7 L644.8,173.8 L641.2,173.0 Z" fill="#24442a" opacity="0.5"/>
<path d="M645.9,185.2 L652.3,186.3 L654.6,189.7 L648.2,188.6 Z" fill="#6a8a44" opacity="0.5"/>
<path d="M642.5,189.0 L646.6,189.0 L646.5,192.0 L642.4,192.0 Z" fill="#5a6a30" opacity="0.5"/>
<path d="M566.3,179.3 L569.0,180.4 L571.3,183.2 L568.6,182.1 Z" fill="#6a8a44" opacity="0.5"/>
<path d="M594.3,158.9 L600.7,157.7 L598.2,164.5 L591.7,165.7 Z" fill="#24442a" opacity="0.5"/>
<path d="M573.0,189.7 L576.1,189.5 L575.7,195.7 L572.6,195.9 Z" fill="#7a7a4a" opacity="0.5"/>
<path d="M617.0,206.2 L621.0,207.4 L623.6,210.5 L619.5,209.3 Z" fill="#7a7a4a" opacity="0.5"/>
<rect x="552.4" y="157.4" width="129.8" height="61.8" fill="#fff" filter="url(#nzl)" opacity="0.6"/>
<rect x="552.4" y="157.4" width="129.8" height="61.8" fill="#fff" filter="url(#nzd)" opacity="0.55"/>
<path d="M643.3,191.4 L656.2,179.0 L671.8,166.7 L680.9,157.4" fill="none" stroke="#a9a47c" stroke-width="0.6" stroke-linejoin="round" stroke-linecap="round" opacity="0.8"/>
<path d="M678.3,157.4 L682.2,157.4 L682.2,219.2 L669.2,219.2 L666.6,206.8 L664.0,194.5 L669.2,182.1 L674.4,169.8 Z" fill="#47708a" filter="url(#b1)"/>
<path d="M681.6,157.4 L682.2,157.4 L682.2,219.2 L673.1,219.2 L671.8,203.8 L674.4,188.3 L678.3,172.8 Z" fill="#485ca2" filter="url(#b05)"/>
<path d="M678.3,157.4 L674.4,169.8 L669.2,182.1 L664.0,194.5 L666.6,206.8 L669.2,219.2" fill="none" stroke="#b9b69a" stroke-width="0.7" stroke-linejoin="round" stroke-linecap="round" opacity="0.8"/>
<rect x="577.1" y="192.0" width="1.6" height="1.6" fill="#7be0c0"/>
<rect x="673.1" y="158.6" width="1.6" height="1.6" fill="#6aa0ff"/>
<rect x="665.3" y="168.5" width="1.6" height="1.6" fill="#6aa0ff"/>
<rect x="643.3" y="188.3" width="1.6" height="1.6" fill="#6aa0ff"/>
<rect x="642.0" y="211.2" width="1.6" height="1.6" fill="#6aa0ff"/>
<rect x="618.6" y="193.2" width="1.6" height="1.6" fill="#e8e8e8"/>
</g>
<rect x="552.4" y="157.4" width="129.8" height="61.8" fill="none" stroke="#c0504d" stroke-width="2"/>
<rect x="617" y="221.8" width="62.5" height="2.9" fill="#000"/>
<text x="648" y="232.6" font-size="9.4" text-anchor="middle" textLength="34" lengthAdjust="spacingAndGlyphs">20 miles</text>
<rect x="0" y="10.9" width="685" height="2.0" fill="#2b4366"/>
<rect x="0" y="233.4" width="685" height="1.5" fill="#2b4366"/>
<rect x="0" y="10.9" width="1.2" height="224" fill="#2b4366"/>
<rect x="683.7" y="10.9" width="1.3" height="224" fill="#2b4366"/>
<text class="b" x="0" y="259.1" font-size="13" stroke="#111" stroke-width="0.4">b</text>
<text x="194" y="261.4" font-size="8.6" text-anchor="middle" textLength="164" lengthAdjust="spacingAndGlyphs">Human species-specific eDNA detection,</text>
<text x="194" y="271.2" font-size="8.6" text-anchor="middle" textLength="54" lengthAdjust="spacingAndGlyphs">ZNF285 qPCR</text>
<line x1="40.5" y1="283.29999999999995" x2="40.5" y2="431.02" stroke="#8a8a8a" stroke-width="0.8"/>
<line x1="36.5" y1="431.0" x2="40.5" y2="431.0" stroke="#8a8a8a" stroke-width="0.8"/>
<text x="32.6" y="433.6" font-size="7.2" text-anchor="end">−1</text>
<line x1="36.5" y1="406.4" x2="40.5" y2="406.4" stroke="#8a8a8a" stroke-width="0.8"/>
<text x="32.6" y="409.0" font-size="7.2" text-anchor="end">0</text>
<line x1="36.5" y1="381.8" x2="40.5" y2="381.8" stroke="#8a8a8a" stroke-width="0.8"/>
<text x="32.6" y="384.4" font-size="7.2" text-anchor="end">1</text>
<line x1="36.5" y1="357.2" x2="40.5" y2="357.2" stroke="#8a8a8a" stroke-width="0.8"/>
<text x="32.6" y="359.8" font-size="7.2" text-anchor="end">2</text>
<line x1="36.5" y1="332.5" x2="40.5" y2="332.5" stroke="#8a8a8a" stroke-width="0.8"/>
<text x="32.6" y="335.1" font-size="7.2" text-anchor="end">3</text>
<line x1="36.5" y1="307.9" x2="40.5" y2="307.9" stroke="#8a8a8a" stroke-width="0.8"/>
<text x="32.6" y="310.5" font-size="7.2" text-anchor="end">4</text>
<line x1="36.5" y1="283.3" x2="40.5" y2="283.3" stroke="#8a8a8a" stroke-width="0.8"/>
<text x="32.6" y="285.9" font-size="7.2" text-anchor="end">5</text>
<text transform="translate(9.2,357) rotate(-90)" font-size="8.6" text-anchor="middle" textLength="123" lengthAdjust="spacingAndGlyphs">Absolute quantity, per reaction</text>
<text transform="translate(18.7,357) rotate(-90)" font-size="8.6" text-anchor="middle">(1 × 10<tspan dy="-3" font-size="5.6">−4</tspan><tspan dy="3"> ng µl</tspan><tspan dy="-3" font-size="5.6">−1</tspan><tspan dy="3">)</tspan></text>
<line x1="60.3" y1="437.6" x2="329.6" y2="437.6" stroke="#8a8a8a" stroke-width="0.8"/>
<line x1="60.3" y1="437.6" x2="60.3" y2="441.6" stroke="#8a8a8a" stroke-width="0.8"/>
<text transform="translate(62.9,445.8) rotate(-90)" font-size="7.2" text-anchor="end" textLength="54" lengthAdjust="spacingAndGlyphs" class="" >NFC city 1 week</text>
<line x1="77.1" y1="437.6" x2="77.1" y2="441.6" stroke="#8a8a8a" stroke-width="0.8"/>
<text transform="translate(79.7,445.8) rotate(-90)" font-size="7.2" text-anchor="end" textLength="54" lengthAdjust="spacingAndGlyphs" class="" >NFC M. 1 month</text>
<line x1="94.0" y1="437.6" x2="94.0" y2="441.6" stroke="#8a8a8a" stroke-width="0.8"/>
<text transform="translate(96.6,445.8) rotate(-90)" font-size="7.2" text-anchor="end" textLength="53" lengthAdjust="spacingAndGlyphs" class="" >NFC E. 1 month</text>
<line x1="110.8" y1="437.6" x2="110.8" y2="441.6" stroke="#8a8a8a" stroke-width="0.8"/>
<text transform="translate(113.4,445.8) rotate(-90)" font-size="7.2" text-anchor="end" textLength="56" lengthAdjust="spacingAndGlyphs" class="" >NFC M. 1 week A</text>
<line x1="127.6" y1="437.6" x2="127.6" y2="441.6" stroke="#8a8a8a" stroke-width="0.8"/>
<text transform="translate(130.2,445.8) rotate(-90)" font-size="7.2" text-anchor="end" textLength="56" lengthAdjust="spacingAndGlyphs" class="" >NFC M. 1 week B</text>
<line x1="144.4" y1="437.6" x2="144.4" y2="441.6" stroke="#8a8a8a" stroke-width="0.8"/>
<text transform="translate(147.0,445.8) rotate(-90)" font-size="7.2" text-anchor="end" textLength="56" lengthAdjust="spacingAndGlyphs" class="" >NFC M. 1 week C</text>
<line x1="161.3" y1="437.6" x2="161.3" y2="441.6" stroke="#8a8a8a" stroke-width="0.8"/>
<line x1="178.1" y1="437.6" x2="178.1" y2="441.6" stroke="#8a8a8a" stroke-width="0.8"/>
<text transform="translate(180.7,445.8) rotate(-90)" font-size="7.2" text-anchor="end" textLength="55" lengthAdjust="spacingAndGlyphs" class="" >City 1week 2024</text>
<line x1="194.9" y1="437.6" x2="194.9" y2="441.6" stroke="#8a8a8a" stroke-width="0.8"/>
<text transform="translate(197.5,445.8) rotate(-90)" font-size="7.2" text-anchor="end" textLength="56.5" lengthAdjust="spacingAndGlyphs" class="" >M. 1 month 2023</text>
<line x1="211.8" y1="437.6" x2="211.8" y2="441.6" stroke="#8a8a8a" stroke-width="0.8"/>
<text transform="translate(214.4,445.8) rotate(-90)" font-size="7.2" text-anchor="end" textLength="55.5" lengthAdjust="spacingAndGlyphs" class="" >E. 1 month 2023</text>
<line x1="228.6" y1="437.6" x2="228.6" y2="441.6" stroke="#8a8a8a" stroke-width="0.8"/>
<text transform="translate(231.2,445.8) rotate(-90)" font-size="7.2" text-anchor="end" textLength="60" lengthAdjust="spacingAndGlyphs" class="" >M. 1 week 2024 A</text>
<line x1="245.4" y1="437.6" x2="245.4" y2="441.6" stroke="#8a8a8a" stroke-width="0.8"/>
<text transform="translate(248.0,445.8) rotate(-90)" font-size="7.2" text-anchor="end" textLength="60" lengthAdjust="spacingAndGlyphs" class="" >M. 1 week 2024 B</text>
<line x1="262.3" y1="437.6" x2="262.3" y2="441.6" stroke="#8a8a8a" stroke-width="0.8"/>
<text transform="translate(264.9,445.8) rotate(-90)" font-size="7.2" text-anchor="end" textLength="60" lengthAdjust="spacingAndGlyphs" class="" >M. 1 week 2024 C</text>
<line x1="279.1" y1="437.6" x2="279.1" y2="441.6" stroke="#8a8a8a" stroke-width="0.8"/>
<line x1="295.9" y1="437.6" x2="295.9" y2="441.6" stroke="#8a8a8a" stroke-width="0.8"/>
<text transform="translate(298.5,445.8) rotate(-90)" font-size="7.2" text-anchor="end" textLength="32.5" lengthAdjust="spacingAndGlyphs" class="" >NFC QiaA</text>
<line x1="312.8" y1="437.6" x2="312.8" y2="441.6" stroke="#8a8a8a" stroke-width="0.8"/>
<text transform="translate(315.4,445.8) rotate(-90)" font-size="7.2" text-anchor="end" textLength="32.5" lengthAdjust="spacingAndGlyphs" class="" >NFC QiaB</text>
<line x1="329.6" y1="437.6" x2="329.6" y2="441.6" stroke="#8a8a8a" stroke-width="0.8"/>
<text transform="translate(327.9,445.8) rotate(-90)" font-size="7.0" text-anchor="end" textLength="37.7" lengthAdjust="spacingAndGlyphs" class="" >River water</text>
<text transform="translate(336.5,445.8) rotate(-90)" font-size="7.0" text-anchor="end" textLength="17.2" lengthAdjust="spacingAndGlyphs" class="" >2023</text>
<line x1="46.4" y1="383.4" x2="152" y2="383.4" stroke="#8a8a8a" stroke-width="1.3"/>
<text class="g" x="98" y="379.2" font-size="8.4" text-anchor="middle" textLength="35" lengthAdjust="spacingAndGlyphs">Air NFCs</text>
<line x1="160.2" y1="304.8" x2="266.8" y2="304.8" stroke="#8a8a8a" stroke-width="1.3"/>
<text class="g" x="211.3" y="298" font-size="8.4" text-anchor="middle" textLength="36" lengthAdjust="spacingAndGlyphs">Air eDNA</text>
<line x1="53.6" y1="406.6" x2="67.0" y2="406.6" stroke="#222" stroke-width="1.5"/>
<circle cx="57.0" cy="406.6" r="1.15" fill="#111"/>
<circle cx="60.3" cy="406.6" r="1.15" fill="#111"/>
<circle cx="63.6" cy="406.6" r="1.15" fill="#111"/>
<line x1="70.4" y1="406.6" x2="83.8" y2="406.6" stroke="#222" stroke-width="1.5"/>
<circle cx="73.8" cy="406.6" r="1.15" fill="#111"/>
<circle cx="77.1" cy="406.6" r="1.15" fill="#111"/>
<circle cx="80.4" cy="406.6" r="1.15" fill="#111"/>
<line x1="87.3" y1="406.6" x2="100.7" y2="406.6" stroke="#222" stroke-width="1.5"/>
<circle cx="90.7" cy="406.6" r="1.15" fill="#111"/>
<circle cx="94.0" cy="406.6" r="1.15" fill="#111"/>
<circle cx="97.3" cy="406.6" r="1.15" fill="#111"/>
<line x1="104.1" y1="406.6" x2="117.5" y2="406.6" stroke="#222" stroke-width="1.5"/>
<circle cx="107.5" cy="406.6" r="1.15" fill="#111"/>
<circle cx="110.8" cy="406.6" r="1.15" fill="#111"/>
<circle cx="114.1" cy="406.6" r="1.15" fill="#111"/>
<line x1="120.9" y1="406.6" x2="134.3" y2="406.6" stroke="#222" stroke-width="1.5"/>
<circle cx="124.3" cy="406.6" r="1.15" fill="#111"/>
<circle cx="127.6" cy="406.6" r="1.15" fill="#111"/>
<circle cx="130.9" cy="406.6" r="1.15" fill="#111"/>
<line x1="137.8" y1="406.6" x2="151.1" y2="406.6" stroke="#222" stroke-width="1.5"/>
<circle cx="141.1" cy="406.6" r="1.15" fill="#111"/>
<circle cx="144.4" cy="406.6" r="1.15" fill="#111"/>
<circle cx="147.8" cy="406.6" r="1.15" fill="#111"/>
<line x1="188.2" y1="406.6" x2="201.6" y2="406.6" stroke="#222" stroke-width="1.5"/>
<circle cx="191.6" cy="406.6" r="1.15" fill="#111"/>
<circle cx="194.9" cy="406.6" r="1.15" fill="#111"/>
<circle cx="198.2" cy="406.6" r="1.15" fill="#111"/>
<line x1="205.1" y1="406.6" x2="218.5" y2="406.6" stroke="#222" stroke-width="1.5"/>
<circle cx="208.5" cy="406.6" r="1.15" fill="#111"/>
<circle cx="211.8" cy="406.6" r="1.15" fill="#111"/>
<circle cx="215.1" cy="406.6" r="1.15" fill="#111"/>
<line x1="221.9" y1="406.6" x2="235.3" y2="406.6" stroke="#222" stroke-width="1.5"/>
<circle cx="225.3" cy="406.6" r="1.15" fill="#111"/>
<circle cx="228.6" cy="406.6" r="1.15" fill="#111"/>
<circle cx="231.9" cy="406.6" r="1.15" fill="#111"/>
<line x1="238.7" y1="406.6" x2="252.1" y2="406.6" stroke="#222" stroke-width="1.5"/>
<circle cx="242.1" cy="406.6" r="1.15" fill="#111"/>
<circle cx="245.4" cy="406.6" r="1.15" fill="#111"/>
<circle cx="248.7" cy="406.6" r="1.15" fill="#111"/>
<line x1="255.6" y1="406.6" x2="269.0" y2="406.6" stroke="#222" stroke-width="1.5"/>
<circle cx="259.0" cy="406.6" r="1.15" fill="#111"/>
<circle cx="262.3" cy="406.6" r="1.15" fill="#111"/>
<circle cx="265.6" cy="406.6" r="1.15" fill="#111"/>
<line x1="289.2" y1="406.6" x2="302.6" y2="406.6" stroke="#222" stroke-width="1.5"/>
<circle cx="292.6" cy="406.6" r="1.15" fill="#111"/>
<circle cx="295.9" cy="406.6" r="1.15" fill="#111"/>
<circle cx="299.2" cy="406.6" r="1.15" fill="#111"/>
<line x1="306.1" y1="406.6" x2="319.4" y2="406.6" stroke="#222" stroke-width="1.5"/>
<circle cx="309.4" cy="406.6" r="1.15" fill="#111"/>
<circle cx="312.8" cy="406.6" r="1.15" fill="#111"/>
<circle cx="316.1" cy="406.6" r="1.15" fill="#111"/>
<line x1="178.1" y1="355.6" x2="178.1" y2="369.2" stroke="#9a9a9a" stroke-width="0.8" stroke-dasharray="1.3,1.3"/>
<line x1="178.1" y1="386.6" x2="178.1" y2="390.4" stroke="#9a9a9a" stroke-width="0.8" stroke-dasharray="1.3,1.3"/>
<rect x="171.3" y="369.2" width="13.6" height="17.4" fill="#fff" stroke="#555" stroke-width="0.7"/>
<line x1="171.3" y1="382.8" x2="184.9" y2="382.8" stroke="#111" stroke-width="1.5"/>
<line x1="174.5" y1="355.6" x2="181.7" y2="355.6" stroke="#444" stroke-width="0.8"/>
<circle cx="178.1" cy="355.6" r="1.05" fill="#111"/>
<line x1="174.5" y1="390.4" x2="181.7" y2="390.4" stroke="#444" stroke-width="0.8"/>
<circle cx="178.1" cy="390.4" r="1.05" fill="#111"/>
<circle cx="178.1" cy="382.8" r="1.05" fill="#111"/>
<line x1="329.8" y1="293.4" x2="329.8" y2="310.1" stroke="#9a9a9a" stroke-width="0.8" stroke-dasharray="1.3,1.3"/>
<line x1="329.8" y1="347.2" x2="329.8" y2="367.3" stroke="#9a9a9a" stroke-width="0.8" stroke-dasharray="1.3,1.3"/>
<rect x="323.0" y="310.1" width="13.6" height="37.1" fill="#fff" stroke="#555" stroke-width="0.7"/>
<line x1="323.0" y1="326.7" x2="336.6" y2="326.7" stroke="#111" stroke-width="1.5"/>
<line x1="326.2" y1="293.4" x2="333.40000000000003" y2="293.4" stroke="#444" stroke-width="0.8"/>
<circle cx="329.8" cy="293.4" r="1.05" fill="#111"/>
<line x1="326.2" y1="367.3" x2="333.40000000000003" y2="367.3" stroke="#444" stroke-width="0.8"/>
<circle cx="329.8" cy="367.3" r="1.05" fill="#111"/>
<circle cx="329.8" cy="326.7" r="1.05" fill="#111"/>
<text x="164.6" y="338.6" font-size="8.6" textLength="28" lengthAdjust="spacingAndGlyphs">City air</text>
<text x="211.6" y="388.6" font-size="8.6" textLength="33" lengthAdjust="spacingAndGlyphs">Rural air</text>
<text transform="translate(307.4,366.6) rotate(-90)" font-size="8.6" text-anchor="middle" textLength="47.6" lengthAdjust="spacingAndGlyphs" class="bl" >Water NFCs</text>
<text class="bl" x="329.8" y="261.4" font-size="8.6" text-anchor="middle" textLength="47" lengthAdjust="spacingAndGlyphs">River eDNA</text>
<text class="bl" x="329.8" y="270.8" font-size="7.2" text-anchor="middle" textLength="42" lengthAdjust="spacingAndGlyphs">(with human</text>
<text class="bl" x="329.8" y="279.5" font-size="7.2" text-anchor="middle" textLength="37" lengthAdjust="spacingAndGlyphs">wastewater</text>
<text class="bl" x="329.8" y="287.8" font-size="7.2" text-anchor="middle" textLength="33" lengthAdjust="spacingAndGlyphs">pollution)</text>
<text x="316" y="502.5" font-size="8.6" text-anchor="middle" textLength="52" lengthAdjust="spacingAndGlyphs">M., mountain</text>
<text x="316" y="513" font-size="8.6" text-anchor="middle" textLength="40.5" lengthAdjust="spacingAndGlyphs">E., estuary</text>
<text class="b" x="370.4" y="259" font-size="13" stroke="#111" stroke-width="0.4">c</text>
<text x="548" y="261.2" font-size="8.6" text-anchor="middle" textLength="173" lengthAdjust="spacingAndGlyphs">Pan-eukaryotic eDNA, 18S rRNA gene qPCR</text>
<line x1="403.6" y1="285.4" x2="403.6" y2="432.2" stroke="#8a8a8a" stroke-width="0.8"/>
<line x1="399.1" y1="428.2" x2="403.6" y2="428.2" stroke="#8a8a8a" stroke-width="0.8"/>
<text x="395.4" y="430.9" font-size="7.6" text-anchor="end" textLength="4.6" lengthAdjust="spacingAndGlyphs">0</text>
<line x1="399.1" y1="392.5" x2="403.6" y2="392.5" stroke="#8a8a8a" stroke-width="0.8"/>
<text x="395.4" y="395.2" font-size="7.6" text-anchor="end" textLength="9.0" lengthAdjust="spacingAndGlyphs">10</text>
<line x1="399.1" y1="356.8" x2="403.6" y2="356.8" stroke="#8a8a8a" stroke-width="0.8"/>
<text x="395.4" y="359.5" font-size="7.6" text-anchor="end" textLength="9.0" lengthAdjust="spacingAndGlyphs">20</text>
<line x1="399.1" y1="321.1" x2="403.6" y2="321.1" stroke="#8a8a8a" stroke-width="0.8"/>
<text x="395.4" y="323.8" font-size="7.6" text-anchor="end" textLength="9.0" lengthAdjust="spacingAndGlyphs">30</text>
<line x1="399.1" y1="285.4" x2="403.6" y2="285.4" stroke="#8a8a8a" stroke-width="0.8"/>
<text x="395.4" y="288.1" font-size="7.6" text-anchor="end" textLength="9.0" lengthAdjust="spacingAndGlyphs">40</text>
<text transform="translate(377.2,446) rotate(-90)" font-size="8.6" textLength="178.5" lengthAdjust="spacingAndGlyphs">Absolute quantity, per reaction (111.3 ng µl<tspan dy="-3" font-size="5.6">−1</tspan><tspan dy="3">)</tspan></text>
<line x1="421.7" y1="437.6" x2="674.7" y2="437.6" stroke="#8a8a8a" stroke-width="0.8"/>
<line x1="421.7" y1="437.6" x2="421.7" y2="441.6" stroke="#8a8a8a" stroke-width="0.8"/>
<text transform="translate(424.5,445.8) rotate(-90)" font-size="7.2" text-anchor="end" textLength="54" lengthAdjust="spacingAndGlyphs" class="" >NFC city 1 week</text>
<line x1="437.5" y1="437.6" x2="437.5" y2="441.6" stroke="#8a8a8a" stroke-width="0.8"/>
<text transform="translate(440.3,445.8) rotate(-90)" font-size="7.2" text-anchor="end" textLength="54" lengthAdjust="spacingAndGlyphs" class="" >NFC M. 1 month</text>
<line x1="453.3" y1="437.6" x2="453.3" y2="441.6" stroke="#8a8a8a" stroke-width="0.8"/>
<text transform="translate(456.1,445.8) rotate(-90)" font-size="7.2" text-anchor="end" textLength="53" lengthAdjust="spacingAndGlyphs" class="" >NFC E. 1 month</text>
<line x1="469.1" y1="437.6" x2="469.1" y2="441.6" stroke="#8a8a8a" stroke-width="0.8"/>
<text transform="translate(471.9,445.8) rotate(-90)" font-size="7.2" text-anchor="end" textLength="56" lengthAdjust="spacingAndGlyphs" class="" >NFC M. 1 week A</text>
<line x1="484.9" y1="437.6" x2="484.9" y2="441.6" stroke="#8a8a8a" stroke-width="0.8"/>
<text transform="translate(487.7,445.8) rotate(-90)" font-size="7.2" text-anchor="end" textLength="56" lengthAdjust="spacingAndGlyphs" class="" >NFC M. 1 week B</text>
<line x1="500.8" y1="437.6" x2="500.8" y2="441.6" stroke="#8a8a8a" stroke-width="0.8"/>
<text transform="translate(503.6,445.8) rotate(-90)" font-size="7.2" text-anchor="end" textLength="56" lengthAdjust="spacingAndGlyphs" class="" >NFC M. 1 week C</text>
<line x1="516.6" y1="437.6" x2="516.6" y2="441.6" stroke="#8a8a8a" stroke-width="0.8"/>
<line x1="532.4" y1="437.6" x2="532.4" y2="441.6" stroke="#8a8a8a" stroke-width="0.8"/>
<text transform="translate(535.2,445.8) rotate(-90)" font-size="7.2" text-anchor="end" textLength="55" lengthAdjust="spacingAndGlyphs" class="" >City 1week 2024</text>
<line x1="548.2" y1="437.6" x2="548.2" y2="441.6" stroke="#8a8a8a" stroke-width="0.8"/>
<text transform="translate(551.0,445.8) rotate(-90)" font-size="7.2" text-anchor="end" textLength="56.5" lengthAdjust="spacingAndGlyphs" class="" >M. 1 month 2023</text>
<line x1="564.0" y1="437.6" x2="564.0" y2="441.6" stroke="#8a8a8a" stroke-width="0.8"/>
<text transform="translate(566.8,445.8) rotate(-90)" font-size="7.2" text-anchor="end" textLength="55.5" lengthAdjust="spacingAndGlyphs" class="" >E. 1 month 2023</text>
<line x1="579.8" y1="437.6" x2="579.8" y2="441.6" stroke="#8a8a8a" stroke-width="0.8"/>
<text transform="translate(582.6,445.8) rotate(-90)" font-size="7.2" text-anchor="end" textLength="60" lengthAdjust="spacingAndGlyphs" class="" >M. 1 week 2024 A</text>
<line x1="595.6" y1="437.6" x2="595.6" y2="441.6" stroke="#8a8a8a" stroke-width="0.8"/>
<text transform="translate(598.4,445.8) rotate(-90)" font-size="7.2" text-anchor="end" textLength="60" lengthAdjust="spacingAndGlyphs" class="" >M. 1 week 2024 B</text>
<line x1="611.4" y1="437.6" x2="611.4" y2="441.6" stroke="#8a8a8a" stroke-width="0.8"/>
<text transform="translate(614.2,445.8) rotate(-90)" font-size="7.2" text-anchor="end" textLength="60" lengthAdjust="spacingAndGlyphs" class="" >M. 1 week 2024 C</text>
<line x1="627.2" y1="437.6" x2="627.2" y2="441.6" stroke="#8a8a8a" stroke-width="0.8"/>
<line x1="643.0" y1="437.6" x2="643.0" y2="441.6" stroke="#8a8a8a" stroke-width="0.8"/>
<text transform="translate(645.8,445.8) rotate(-90)" font-size="7.2" text-anchor="end" textLength="32.5" lengthAdjust="spacingAndGlyphs" class="" >NFC QiaA</text>
<line x1="658.9" y1="437.6" x2="658.9" y2="441.6" stroke="#8a8a8a" stroke-width="0.8"/>
<text transform="translate(661.6,445.8) rotate(-90)" font-size="7.2" text-anchor="end" textLength="32.5" lengthAdjust="spacingAndGlyphs" class="" >NFC QiaB</text>
<line x1="674.7" y1="437.6" x2="674.7" y2="441.6" stroke="#8a8a8a" stroke-width="0.8"/>
<text transform="translate(672.4,445.8) rotate(-90)" font-size="7.0" text-anchor="end" textLength="37.7" lengthAdjust="spacingAndGlyphs" class="" >River water</text>
<text transform="translate(682.3,445.8) rotate(-90)" font-size="7.0" text-anchor="end" textLength="17.2" lengthAdjust="spacingAndGlyphs" class="" >2023</text>
<line x1="409.1" y1="409.5" x2="506.9" y2="409.5" stroke="#8a8a8a" stroke-width="1.3"/>
<text class="g" x="456.7" y="404" font-size="8.4" text-anchor="middle" textLength="35" lengthAdjust="spacingAndGlyphs">Air NFCs</text>
<line x1="527.8" y1="277.8" x2="620.7" y2="277.8" stroke="#8a8a8a" stroke-width="1.3"/>
<text class="g" x="572.9" y="274" font-size="8.4" text-anchor="middle" textLength="36" lengthAdjust="spacingAndGlyphs">Air eDNA</text>
<line x1="417.6" y1="428.4" x2="430.2" y2="428.4" stroke="#222" stroke-width="1.5"/>
<circle cx="420.6" cy="428.4" r="1.15" fill="#111"/>
<circle cx="423.9" cy="428.4" r="1.15" fill="#111"/>
<circle cx="427.2" cy="428.4" r="1.15" fill="#111"/>
<line x1="433.4" y1="428.4" x2="446.0" y2="428.4" stroke="#222" stroke-width="1.5"/>
<circle cx="436.4" cy="428.4" r="1.15" fill="#111"/>
<circle cx="439.7" cy="428.4" r="1.15" fill="#111"/>
<circle cx="443.0" cy="428.4" r="1.15" fill="#111"/>
<line x1="449.2" y1="428.4" x2="461.8" y2="428.4" stroke="#222" stroke-width="1.5"/>
<circle cx="452.2" cy="428.4" r="1.15" fill="#111"/>
<circle cx="455.5" cy="428.4" r="1.15" fill="#111"/>
<circle cx="458.8" cy="428.4" r="1.15" fill="#111"/>
<line x1="465.0" y1="428.4" x2="477.6" y2="428.4" stroke="#222" stroke-width="1.5"/>
<circle cx="468.0" cy="428.4" r="1.15" fill="#111"/>
<circle cx="471.3" cy="428.4" r="1.15" fill="#111"/>
<circle cx="474.6" cy="428.4" r="1.15" fill="#111"/>
<line x1="480.8" y1="428.4" x2="493.4" y2="428.4" stroke="#222" stroke-width="1.5"/>
<circle cx="483.8" cy="428.4" r="1.15" fill="#111"/>
<circle cx="487.1" cy="428.4" r="1.15" fill="#111"/>
<circle cx="490.4" cy="428.4" r="1.15" fill="#111"/>
<line x1="496.6" y1="428.4" x2="509.2" y2="428.4" stroke="#222" stroke-width="1.5"/>
<circle cx="499.6" cy="428.4" r="1.15" fill="#111"/>
<circle cx="502.9" cy="428.4" r="1.15" fill="#111"/>
<circle cx="506.2" cy="428.4" r="1.15" fill="#111"/>
<line x1="638.9" y1="428.4" x2="651.5" y2="428.4" stroke="#222" stroke-width="1.5"/>
<circle cx="641.9" cy="428.4" r="1.15" fill="#111"/>
<circle cx="645.2" cy="428.4" r="1.15" fill="#111"/>
<circle cx="648.5" cy="428.4" r="1.15" fill="#111"/>
<line x1="654.8" y1="428.4" x2="667.3" y2="428.4" stroke="#222" stroke-width="1.5"/>
<circle cx="657.8" cy="428.4" r="1.15" fill="#111"/>
<circle cx="661.0" cy="428.4" r="1.15" fill="#111"/>
<circle cx="664.3" cy="428.4" r="1.15" fill="#111"/>
<line x1="528.3" y1="425.8" x2="540.9" y2="425.8" stroke="#222" stroke-width="1.5"/>
<circle cx="531.3" cy="425.8" r="1.15" fill="#111"/>
<circle cx="534.6" cy="425.8" r="1.15" fill="#111"/>
<circle cx="537.9" cy="425.8" r="1.15" fill="#111"/>
<line x1="575.7" y1="424.4" x2="588.3" y2="424.4" stroke="#222" stroke-width="1.5"/>
<circle cx="578.7" cy="424.4" r="1.15" fill="#111"/>
<circle cx="582.0" cy="424.4" r="1.15" fill="#111"/>
<circle cx="585.3" cy="424.4" r="1.15" fill="#111"/>
<line x1="670.6" y1="422.0" x2="683.2" y2="422.0" stroke="#222" stroke-width="1.5"/>
<circle cx="673.6" cy="422.0" r="1.15" fill="#111"/>
<circle cx="676.9" cy="422.0" r="1.15" fill="#111"/>
<circle cx="680.2" cy="422.0" r="1.15" fill="#111"/>
<line x1="566.1899999999999" y1="283.2" x2="566.1899999999999" y2="288.9" stroke="#9a9a9a" stroke-width="0.8" stroke-dasharray="1.3,1.3"/>
<line x1="566.1899999999999" y1="297.5" x2="566.1899999999999" y2="300.0" stroke="#9a9a9a" stroke-width="0.8" stroke-dasharray="1.3,1.3"/>
<rect x="559.6" y="288.9" width="13.2" height="8.6" fill="#fff" stroke="#555" stroke-width="0.7"/>
<line x1="559.6" y1="294.8" x2="572.8" y2="294.8" stroke="#111" stroke-width="1.5"/>
<line x1="562.5899999999999" y1="283.2" x2="569.79" y2="283.2" stroke="#444" stroke-width="0.8"/>
<circle cx="566.1899999999999" cy="283.2" r="1.05" fill="#111"/>
<line x1="562.5899999999999" y1="300.0" x2="569.79" y2="300.0" stroke="#444" stroke-width="0.8"/>
<circle cx="566.1899999999999" cy="300.0" r="1.05" fill="#111"/>
<circle cx="566.1899999999999" cy="294.8" r="1.05" fill="#111"/>
<line x1="550.38" y1="394.2" x2="550.38" y2="395.0" stroke="#9a9a9a" stroke-width="0.8" stroke-dasharray="1.3,1.3"/>
<line x1="550.38" y1="401.2" x2="550.38" y2="406.3" stroke="#9a9a9a" stroke-width="0.8" stroke-dasharray="1.3,1.3"/>
<rect x="543.9" y="395.0" width="13.0" height="6.2" fill="#fff" stroke="#555" stroke-width="0.7"/>
<line x1="543.9" y1="395.8" x2="556.9" y2="395.8" stroke="#111" stroke-width="1.5"/>
<line x1="546.78" y1="394.2" x2="553.98" y2="394.2" stroke="#444" stroke-width="0.8"/>
<circle cx="550.38" cy="394.2" r="1.05" fill="#111"/>
<line x1="546.78" y1="406.3" x2="553.98" y2="406.3" stroke="#444" stroke-width="0.8"/>
<circle cx="550.38" cy="406.3" r="1.05" fill="#111"/>
<circle cx="550.38" cy="395.8" r="1.05" fill="#111"/>
<circle cx="550.38" cy="394.6" r="1.05" fill="#111"/>
<line x1="597.81" y1="398.2" x2="597.81" y2="399.9" stroke="#9a9a9a" stroke-width="0.8" stroke-dasharray="1.3,1.3"/>
<line x1="597.81" y1="403.6" x2="597.81" y2="405.3" stroke="#9a9a9a" stroke-width="0.8" stroke-dasharray="1.3,1.3"/>
<rect x="591.3" y="399.9" width="13.0" height="3.7" fill="#fff" stroke="#555" stroke-width="0.7"/>
<line x1="591.3" y1="401.8" x2="604.3" y2="401.8" stroke="#111" stroke-width="1.5"/>
<line x1="594.2099999999999" y1="398.2" x2="601.41" y2="398.2" stroke="#444" stroke-width="0.8"/>
<circle cx="597.81" cy="398.2" r="1.05" fill="#111"/>
<line x1="594.2099999999999" y1="405.3" x2="601.41" y2="405.3" stroke="#444" stroke-width="0.8"/>
<circle cx="597.81" cy="405.3" r="1.05" fill="#111"/>
<circle cx="597.81" cy="401.8" r="1.05" fill="#111"/>
<line x1="613.62" y1="403.0" x2="613.62" y2="403.4" stroke="#9a9a9a" stroke-width="0.8" stroke-dasharray="1.3,1.3"/>
<line x1="613.62" y1="405.4" x2="613.62" y2="407.7" stroke="#9a9a9a" stroke-width="0.8" stroke-dasharray="1.3,1.3"/>
<rect x="607.1" y="403.4" width="13.0" height="2.0" fill="#fff" stroke="#555" stroke-width="0.7"/>
<line x1="607.1" y1="404.2" x2="620.1" y2="404.2" stroke="#111" stroke-width="1.5"/>
<line x1="610.02" y1="403.0" x2="617.22" y2="403.0" stroke="#444" stroke-width="0.8"/>
<circle cx="613.62" cy="403.0" r="1.05" fill="#111"/>
<line x1="610.02" y1="407.7" x2="617.22" y2="407.7" stroke="#444" stroke-width="0.8"/>
<circle cx="613.62" cy="407.7" r="1.05" fill="#111"/>
<circle cx="613.62" cy="404.2" r="1.05" fill="#111"/>
<text transform="translate(654.4,390.2) rotate(-90)" font-size="8.6" text-anchor="middle" textLength="46.7" lengthAdjust="spacingAndGlyphs" class="bl" >Water NFCs</text>
<text transform="translate(677.4,377) rotate(-90)" font-size="8.6" text-anchor="middle" textLength="44.5" lengthAdjust="spacingAndGlyphs" class="bl" >River eDNA</text>
<text x="656.4" y="502.5" font-size="8.6" text-anchor="middle" textLength="51.6" lengthAdjust="spacingAndGlyphs">M., mountain</text>
<text x="656.3" y="513" font-size="8.6" text-anchor="middle" textLength="40.5" lengthAdjust="spacingAndGlyphs">E., estuary</text>
<g transform="translate(128.4,670.6) scale(1,0.955)">
<circle cx="0" cy="0" r="86.0" fill="#fff"/>
<path d="M0.00,-86.00 A86.0,86.0 0 0 1 74.48,-43.00 L61.92,-35.75 A71.5,71.5 0 0 0 0.00,-71.50 Z" fill="#efdcee" stroke="#fff" stroke-width="0.45" stroke-linejoin="round"/>
<path d="M74.48,-43.00 A86.0,86.0 0 0 1 86.00,-0.00 L71.50,-0.00 A71.5,71.5 0 0 0 61.92,-35.75 Z" fill="#bb6fb1" stroke="#fff" stroke-width="0.45" stroke-linejoin="round"/>
<path d="M86.00,-0.00 A86.0,86.0 0 0 1 74.48,43.00 L61.92,35.75 A71.5,71.5 0 0 0 71.50,-0.00 Z" fill="#dfecd2" stroke="#fff" stroke-width="0.45" stroke-linejoin="round"/>
<path d="M74.48,43.00 A86.0,86.0 0 0 1 43.00,74.48 L35.75,61.92 A71.5,71.5 0 0 0 61.92,35.75 Z" fill="#7aae40" stroke="#fff" stroke-width="0.45" stroke-linejoin="round"/>
<path d="M43.00,74.48 A86.0,86.0 0 0 1 -43.00,-74.48 L-35.75,-61.92 A71.5,71.5 0 0 0 35.75,61.92 Z" fill="#e9f8fa" stroke="#fff" stroke-width="0.45" stroke-linejoin="round"/>
<path d="M-43.00,-74.48 A86.0,86.0 0 0 1 -0.00,-86.00 L-0.00,-71.50 A71.5,71.5 0 0 0 -35.75,-61.92 Z" fill="#1fbcc1" stroke="#fff" stroke-width="0.45" stroke-linejoin="round"/>
<path d="M0,0 L0.00,-70.60 A70.6,70.6 0 0 1 70.60,-0.00 Z" fill="#bb6fb1" stroke="#fff" stroke-width="0.5" stroke-linejoin="round"/>
<path d="M0,0 L70.60,-0.00 A70.6,70.6 0 0 1 35.30,61.14 Z" fill="#7aae40" stroke="#fff" stroke-width="0.5" stroke-linejoin="round"/>
<path d="M0,0 L35.30,61.14 A70.6,70.6 0 1 1 -0.00,-70.60 Z" fill="#1fbcc1" stroke="#fff" stroke-width="0.5" stroke-linejoin="round"/>
<circle cx="0" cy="0" r="86.2" fill="none" stroke="#333" stroke-width="0.6"/>
<rect x="-1" y="-1.5" width="2" height="3" fill="#111" transform="translate(0.00,-87.00) rotate(0)"/>
<rect x="-1" y="-1.5" width="2" height="3" fill="#111" transform="translate(75.34,-43.50) rotate(60)"/>
<rect x="-1" y="-1.5" width="2" height="3" fill="#111" transform="translate(87.00,-0.00) rotate(90)"/>
<rect x="-1" y="-1.5" width="2" height="3" fill="#111" transform="translate(75.34,43.50) rotate(120)"/>
<rect x="-1" y="-1.5" width="2" height="3" fill="#111" transform="translate(-43.50,-75.34) rotate(330)"/>
<circle cx="0" cy="0" r="0.8" fill="#111"/>
</g>
<g transform="translate(340.6,677.7) scale(1,0.949)">
<circle cx="0" cy="0" r="86.0" fill="#fff"/>
<path d="M0.00,-86.00 A86.0,86.0 0 0 1 2.25,-85.97 L1.87,-71.48 A71.5,71.5 0 0 0 0.00,-71.50 Z" fill="#fbe6e6" stroke="#fff" stroke-width="0.45" stroke-linejoin="round"/>
<path d="M2.25,-85.97 A86.0,86.0 0 0 1 71.96,-47.09 L59.83,-39.15 A71.5,71.5 0 0 0 1.87,-71.48 Z" fill="#bb6fb1" stroke="#fff" stroke-width="0.45" stroke-linejoin="round"/>
<path d="M71.96,-47.09 A86.0,86.0 0 0 1 75.72,-40.77 L62.95,-33.90 A71.5,71.5 0 0 0 59.83,-39.15 Z" fill="#fbd3d1" stroke="#fff" stroke-width="0.45" stroke-linejoin="round"/>
<path d="M75.72,-40.77 A86.0,86.0 0 0 1 79.62,-32.49 L66.20,-27.02 A71.5,71.5 0 0 0 62.95,-33.90 Z" fill="#f8a8a2" stroke="#fff" stroke-width="0.45" stroke-linejoin="round"/>
<path d="M79.62,-32.49 A86.0,86.0 0 0 1 82.33,-24.86 L68.45,-20.67 A71.5,71.5 0 0 0 66.20,-27.02 Z" fill="#f2746c" stroke="#fff" stroke-width="0.45" stroke-linejoin="round"/>
<path d="M82.33,-24.86 A86.0,86.0 0 0 1 85.24,-11.37 L70.87,-9.46 A71.5,71.5 0 0 0 68.45,-20.67 Z" fill="#eff2b9" stroke="#fff" stroke-width="0.45" stroke-linejoin="round"/>
<path d="M85.24,-11.37 A86.0,86.0 0 0 1 85.60,8.24 L71.17,6.85 A71.5,71.5 0 0 0 70.87,-9.46 Z" fill="#e0e57a" stroke="#fff" stroke-width="0.45" stroke-linejoin="round"/>
<path d="M85.60,8.24 A86.0,86.0 0 0 1 70.36,49.45 L58.50,41.11 A71.5,71.5 0 0 0 71.17,6.85 Z" fill="#dfecd2" stroke="#fff" stroke-width="0.45" stroke-linejoin="round"/>
<path d="M70.36,49.45 A86.0,86.0 0 0 1 63.81,57.66 L53.05,47.94 A71.5,71.5 0 0 0 58.50,41.11 Z" fill="#cfe2b8" stroke="#fff" stroke-width="0.45" stroke-linejoin="round"/>
<path d="M63.81,57.66 A86.0,86.0 0 0 1 62.38,59.20 L51.86,49.22 A71.5,71.5 0 0 0 53.05,47.94 Z" fill="#c2da9f" stroke="#fff" stroke-width="0.45" stroke-linejoin="round"/>
<path d="M62.38,59.20 A86.0,86.0 0 0 1 55.85,65.39 L46.44,54.37 A71.5,71.5 0 0 0 51.86,49.22 Z" fill="#a8cb7c" stroke="#fff" stroke-width="0.45" stroke-linejoin="round"/>
<path d="M55.85,65.39 A86.0,86.0 0 0 1 50.31,69.75 L41.82,57.99 A71.5,71.5 0 0 0 46.44,54.37 Z" fill="#7aae40" stroke="#fff" stroke-width="0.45" stroke-linejoin="round"/>
<path d="M50.31,69.75 A86.0,86.0 0 0 1 48.46,71.04 L40.29,59.07 A71.5,71.5 0 0 0 41.82,57.99 Z" fill="#8fbb5c" stroke="#fff" stroke-width="0.45" stroke-linejoin="round"/>
<path d="M48.46,71.04 A86.0,86.0 0 0 1 -59.31,-62.28 L-49.31,-51.78 A71.5,71.5 0 0 0 40.29,59.07 Z" fill="#e9f8fa" stroke="#fff" stroke-width="0.45" stroke-linejoin="round"/>
<path d="M-59.31,-62.28 A86.0,86.0 0 0 1 -56.31,-65.00 L-46.81,-54.04 A71.5,71.5 0 0 0 -49.31,-51.78 Z" fill="#d7f2f4" stroke="#fff" stroke-width="0.45" stroke-linejoin="round"/>
<path d="M-56.31,-65.00 A86.0,86.0 0 0 1 -53.77,-67.12 L-44.70,-55.80 A71.5,71.5 0 0 0 -46.81,-54.04 Z" fill="#c3ecee" stroke="#fff" stroke-width="0.45" stroke-linejoin="round"/>
<path d="M-53.77,-67.12 A86.0,86.0 0 0 1 -46.21,-72.53 L-38.42,-60.30 A71.5,71.5 0 0 0 -44.70,-55.80 Z" fill="#a5e3e6" stroke="#fff" stroke-width="0.45" stroke-linejoin="round"/>
<path d="M-46.21,-72.53 A86.0,86.0 0 0 1 -41.56,-75.29 L-34.55,-62.60 A71.5,71.5 0 0 0 -38.42,-60.30 Z" fill="#5fcdd1" stroke="#fff" stroke-width="0.45" stroke-linejoin="round"/>
<path d="M-41.56,-75.29 A86.0,86.0 0 0 1 -3.00,-85.95 L-2.50,-71.46 A71.5,71.5 0 0 0 -34.55,-62.60 Z" fill="#1fbcc1" stroke="#fff" stroke-width="0.45" stroke-linejoin="round"/>
<path d="M-3.00,-85.95 A86.0,86.0 0 0 1 -0.00,-86.00 L-0.00,-71.50 A71.5,71.5 0 0 0 -2.50,-71.46 Z" fill="#9fe0e3" stroke="#fff" stroke-width="0.45" stroke-linejoin="round"/>
<path d="M0,0 L0.37,-70.60 A70.6,70.6 0 0 1 59.08,-38.66 Z" fill="#bb6fb1" stroke="#fff" stroke-width="0.5" stroke-linejoin="round"/>
<path d="M0,0 L59.08,-38.66 A70.6,70.6 0 0 1 67.59,-20.41 Z" fill="#f2746c" stroke="#fff" stroke-width="0.5" stroke-linejoin="round"/>
<path d="M0,0 L67.59,-20.41 A70.6,70.6 0 0 1 70.27,6.77 Z" fill="#e0e57a" stroke="#fff" stroke-width="0.5" stroke-linejoin="round"/>
<path d="M0,0 L70.27,6.77 A70.6,70.6 0 0 1 39.78,58.32 Z" fill="#7aae40" stroke="#fff" stroke-width="0.5" stroke-linejoin="round"/>
<path d="M0,0 L39.78,58.32 A70.6,70.6 0 1 1 0.37,-70.60 Z" fill="#1fbcc1" stroke="#fff" stroke-width="0.5" stroke-linejoin="round"/>
<circle cx="0" cy="0" r="86.2" fill="none" stroke="#333" stroke-width="0.6"/>
<rect x="-1" y="-1.5" width="2" height="3" fill="#111" transform="translate(-3.04,-86.95) rotate(-2)"/>
<rect x="-1" y="-1.5" width="2" height="3" fill="#111" transform="translate(0.00,-87.00) rotate(0)"/>
<rect x="-1" y="-1.5" width="2" height="3" fill="#111" transform="translate(2.43,-86.97) rotate(1.6)"/>
<rect x="-1" y="-1.5" width="2" height="3" fill="#111" transform="translate(72.80,-47.64) rotate(56.8)"/>
<rect x="-1" y="-1.5" width="2" height="3" fill="#111" transform="translate(76.60,-41.25) rotate(61.7)"/>
<rect x="-1" y="-1.5" width="2" height="3" fill="#111" transform="translate(80.55,-32.87) rotate(67.8)"/>
<rect x="-1" y="-1.5" width="2" height="3" fill="#111" transform="translate(83.29,-25.15) rotate(73.2)"/>
<rect x="-1" y="-1.5" width="2" height="3" fill="#111" transform="translate(86.24,-11.51) rotate(82.4)"/>
<rect x="-1" y="-1.5" width="2" height="3" fill="#111" transform="translate(86.60,8.34) rotate(95.5)"/>
<rect x="-1" y="-1.5" width="2" height="3" fill="#111" transform="translate(71.18,50.03) rotate(125.1)"/>
<rect x="-1" y="-1.5" width="2" height="3" fill="#111" transform="translate(64.55,58.33) rotate(132.1)"/>
<rect x="-1" y="-1.5" width="2" height="3" fill="#111" transform="translate(63.63,59.33) rotate(133.0)"/>
<rect x="-1" y="-1.5" width="2" height="3" fill="#111" transform="translate(56.50,66.16) rotate(139.5)"/>
<rect x="-1" y="-1.5" width="2" height="3" fill="#111" transform="translate(50.40,70.92) rotate(144.6)"/>
<rect x="-1" y="-1.5" width="2" height="3" fill="#111" transform="translate(49.03,71.87) rotate(145.7)"/>
<rect x="-1" y="-1.5" width="2" height="3" fill="#111" transform="translate(-60.00,-63.00) rotate(316.4)"/>
<rect x="-1" y="-1.5" width="2" height="3" fill="#111" transform="translate(-56.96,-65.76) rotate(319.1)"/>
<rect x="-1" y="-1.5" width="2" height="3" fill="#111" transform="translate(-54.40,-67.90) rotate(321.3)"/>
<rect x="-1" y="-1.5" width="2" height="3" fill="#111" transform="translate(-46.75,-73.38) rotate(327.5)"/>
<rect x="-1" y="-1.5" width="2" height="3" fill="#111" transform="translate(-42.05,-76.17) rotate(331.1)"/>
<circle cx="0" cy="0" r="0.8" fill="#111"/>
</g>
<g transform="translate(555.8,682.0) scale(1,0.949)">
<circle cx="0" cy="0" r="86.0" fill="#fff"/>
<path d="M0.00,-86.00 A86.0,86.0 0 0 1 30.26,-80.50 L25.16,-66.93 A71.5,71.5 0 0 0 0.00,-71.50 Z" fill="#bb6fb1" stroke="#fff" stroke-width="0.45" stroke-linejoin="round"/>
<path d="M30.26,-80.50 A86.0,86.0 0 0 1 32.22,-79.74 L26.78,-66.29 A71.5,71.5 0 0 0 25.16,-66.93 Z" fill="#fdeceb" stroke="#fff" stroke-width="0.45" stroke-linejoin="round"/>
<path d="M32.22,-79.74 A86.0,86.0 0 0 1 43.26,-74.33 L35.97,-61.80 A71.5,71.5 0 0 0 26.78,-66.29 Z" fill="#fbd3d1" stroke="#fff" stroke-width="0.45" stroke-linejoin="round"/>
<path d="M43.26,-74.33 A86.0,86.0 0 0 1 46.84,-72.13 L38.94,-59.96 A71.5,71.5 0 0 0 35.97,-61.80 Z" fill="#f8a8a2" stroke="#fff" stroke-width="0.45" stroke-linejoin="round"/>
<path d="M46.84,-72.13 A86.0,86.0 0 0 1 49.70,-70.19 L41.32,-58.35 A71.5,71.5 0 0 0 38.94,-59.96 Z" fill="#f2746c" stroke="#fff" stroke-width="0.45" stroke-linejoin="round"/>
<path d="M49.70,-70.19 A86.0,86.0 0 0 1 61.44,-60.17 L51.08,-50.03 A71.5,71.5 0 0 0 41.32,-58.35 Z" fill="#f7f8dc" stroke="#fff" stroke-width="0.45" stroke-linejoin="round"/>
<path d="M61.44,-60.17 A86.0,86.0 0 0 1 73.56,-44.55 L61.16,-37.04 A71.5,71.5 0 0 0 51.08,-50.03 Z" fill="#e0e57a" stroke="#fff" stroke-width="0.45" stroke-linejoin="round"/>
<path d="M73.56,-44.55 A86.0,86.0 0 0 1 83.26,-21.53 L69.22,-17.90 A71.5,71.5 0 0 0 61.16,-37.04 Z" fill="#cfe2b8" stroke="#fff" stroke-width="0.45" stroke-linejoin="round"/>
<path d="M83.26,-21.53 A86.0,86.0 0 0 1 84.39,-16.56 L70.16,-13.77 A71.5,71.5 0 0 0 69.22,-17.90 Z" fill="#7aae40" stroke="#fff" stroke-width="0.45" stroke-linejoin="round"/>
<path d="M84.39,-16.56 A86.0,86.0 0 0 1 85.48,-9.44 L71.07,-7.85 A71.5,71.5 0 0 0 70.16,-13.77 Z" fill="#7aae40" stroke="#fff" stroke-width="0.45" stroke-linejoin="round"/>
<path d="M85.48,-9.44 A86.0,86.0 0 1 1 -77.30,-37.70 L-64.26,-31.34 A71.5,71.5 0 1 0 71.07,-7.85 Z" fill="#dff5f7" stroke="#fff" stroke-width="0.45" stroke-linejoin="round"/>
<path d="M-77.30,-37.70 A86.0,86.0 0 0 1 -45.19,-73.17 L-37.57,-60.83 A71.5,71.5 0 0 0 -64.26,-31.34 Z" fill="#b0e8ea" stroke="#fff" stroke-width="0.45" stroke-linejoin="round"/>
<path d="M-45.19,-73.17 A86.0,86.0 0 0 1 -34.15,-78.93 L-28.40,-65.62 A71.5,71.5 0 0 0 -37.57,-60.83 Z" fill="#8adde0" stroke="#fff" stroke-width="0.45" stroke-linejoin="round"/>
<path d="M-34.15,-78.93 A86.0,86.0 0 0 1 -15.08,-84.67 L-12.54,-70.39 A71.5,71.5 0 0 0 -28.40,-65.62 Z" fill="#6dd3d6" stroke="#fff" stroke-width="0.45" stroke-linejoin="round"/>
<path d="M-15.08,-84.67 A86.0,86.0 0 0 1 -1.80,-85.98 L-1.50,-71.48 A71.5,71.5 0 0 0 -12.54,-70.39 Z" fill="#45c5ca" stroke="#fff" stroke-width="0.45" stroke-linejoin="round"/>
<path d="M-1.80,-85.98 A86.0,86.0 0 0 1 -0.00,-86.00 L-0.00,-71.50 A71.5,71.5 0 0 0 -1.50,-71.48 Z" fill="#1fbcc1" stroke="#fff" stroke-width="0.45" stroke-linejoin="round"/>
<path d="M0,0 L0.00,-70.60 A70.6,70.6 0 0 1 24.84,-66.09 Z" fill="#bb6fb1" stroke="#fff" stroke-width="0.5" stroke-linejoin="round"/>
<path d="M0,0 L24.84,-66.09 A70.6,70.6 0 0 1 40.80,-57.62 Z" fill="#f2746c" stroke="#fff" stroke-width="0.5" stroke-linejoin="round"/>
<path d="M0,0 L40.80,-57.62 A70.6,70.6 0 0 1 60.39,-36.57 Z" fill="#e0e57a" stroke="#fff" stroke-width="0.5" stroke-linejoin="round"/>
<path d="M0,0 L60.39,-36.57 A70.6,70.6 0 0 1 70.17,-7.75 Z" fill="#7aae40" stroke="#fff" stroke-width="0.5" stroke-linejoin="round"/>
<path d="M0,0 L70.17,-7.75 A70.6,70.6 0 1 1 -0.00,-70.60 Z" fill="#1fbcc1" stroke="#fff" stroke-width="0.5" stroke-linejoin="round"/>
<circle cx="0" cy="0" r="86.2" fill="none" stroke="#333" stroke-width="0.6"/>
<rect x="-1" y="-1.5" width="2" height="3" fill="#111" transform="translate(-1.97,-86.98) rotate(-1.3)"/>
<rect x="-1" y="-1.5" width="2" height="3" fill="#111" transform="translate(0.00,-87.00) rotate(0)"/>
<rect x="-1" y="-1.5" width="2" height="3" fill="#111" transform="translate(30.61,-81.44) rotate(20.6)"/>
<rect x="-1" y="-1.5" width="2" height="3" fill="#111" transform="translate(32.45,-80.72) rotate(21.9)"/>
<rect x="-1" y="-1.5" width="2" height="3" fill="#111" transform="translate(43.76,-75.19) rotate(30.2)"/>
<rect x="-1" y="-1.5" width="2" height="3" fill="#111" transform="translate(47.38,-72.96) rotate(33)"/>
<rect x="-1" y="-1.5" width="2" height="3" fill="#111" transform="translate(50.27,-71.00) rotate(35.3)"/>
<rect x="-1" y="-1.5" width="2" height="3" fill="#111" transform="translate(62.16,-60.87) rotate(45.6)"/>
<rect x="-1" y="-1.5" width="2" height="3" fill="#111" transform="translate(74.42,-45.07) rotate(58.8)"/>
<rect x="-1" y="-1.5" width="2" height="3" fill="#111" transform="translate(84.23,-21.78) rotate(75.5)"/>
<rect x="-1" y="-1.5" width="2" height="3" fill="#111" transform="translate(85.37,-16.75) rotate(78.9)"/>
<rect x="-1" y="-1.5" width="2" height="3" fill="#111" transform="translate(86.47,-9.55) rotate(83.7)"/>
<rect x="-1" y="-1.5" width="2" height="3" fill="#111" transform="translate(-78.72,-37.04) rotate(295.2)"/>
<rect x="-1" y="-1.5" width="2" height="3" fill="#111" transform="translate(-77.79,-38.96) rotate(296.6)"/>
<rect x="-1" y="-1.5" width="2" height="3" fill="#111" transform="translate(-45.72,-74.02) rotate(328.3)"/>
<rect x="-1" y="-1.5" width="2" height="3" fill="#111" transform="translate(-34.55,-79.84) rotate(336.6)"/>
<rect x="-1" y="-1.5" width="2" height="3" fill="#111" transform="translate(-15.26,-85.65) rotate(349.9)"/>
<circle cx="0" cy="0" r="0.8" fill="#111"/>
</g>
<text class="b" x="0" y="540.2" font-size="13" stroke="#111" stroke-width="0.4">d</text>
<text x="177.5" y="540.2" font-size="8.6" textLength="332.0" lengthAdjust="spacingAndGlyphs" >Human genetic ancestry analysis from outdoor air, short-read shotgun sequencing</text>
<text x="85.05000000000001" y="558.4" font-size="8.6" textLength="101.7" lengthAdjust="spacingAndGlyphs" >Florida, forest air, 1 week,</text>
<text x="115.19999999999999" y="567.8" font-size="8.6" textLength="41.0" lengthAdjust="spacingAndGlyphs" >April 2023</text>
<text x="297.3" y="557.4" font-size="8.6" textLength="90.4" lengthAdjust="spacingAndGlyphs" >Ireland, Dublin city air,</text>
<text x="308.8" y="567.6" font-size="8.6" textLength="69.0" lengthAdjust="spacingAndGlyphs" >1 week, July 2023</text>
<text x="512.3" y="557.4" font-size="8.6" textLength="91.0" lengthAdjust="spacingAndGlyphs" >Ireland, Dublin City air,</text>
<text x="523.8" y="567.6" font-size="8.6" textLength="69.0" lengthAdjust="spacingAndGlyphs" >1 week, July 2024</text>
<text x="64" y="587.6" font-size="8.6" style="fill:#27b9c3" textLength="34.0" lengthAdjust="spacingAndGlyphs" >H,U (3,1)</text>
<text x="162.5" y="587.6" font-size="8.6" style="fill:#c77fc1" textLength="26.5" lengthAdjust="spacingAndGlyphs" >E,L(1,1)</text>
<text x="186" y="741.8" font-size="8.6" style="fill:#86b84e" textLength="28.0" lengthAdjust="spacingAndGlyphs" >D,F(1,1)</text>
<text x="106.19999999999999" y="703.3" font-size="8.6" textLength="59.0" lengthAdjust="spacingAndGlyphs" >8 haplogroups</text>
<text x="240.5" y="585" font-size="8.6" style="fill:#27b9c3" textLength="65.9" lengthAdjust="spacingAndGlyphs" >H,I,J,K,T,U,V,W,X</text>
<text x="243.3" y="595.2" font-size="8.6" style="fill:#27b9c3" textLength="61.0" lengthAdjust="spacingAndGlyphs" >(28,1,2,2,2,10,1)</text>
<text x="376.5" y="595.2" font-size="8.6" style="fill:#c77fc1" textLength="27.6" lengthAdjust="spacingAndGlyphs" >E,L(1,9)</text>
<text x="429" y="634.8" font-size="8.6" style="fill:#f27a72" textLength="22.4" lengthAdjust="spacingAndGlyphs" >A,B,C</text>
<text x="428" y="644.6" font-size="8.6" style="fill:#f27a72" textLength="26.2" lengthAdjust="spacingAndGlyphs" >(3,4,3)</text>
<text x="436" y="665.3" font-size="8.6" style="fill:#bcc76a" textLength="14.7" lengthAdjust="spacingAndGlyphs" >M,R</text>
<text x="435" y="675.1" font-size="8.6" style="fill:#bcc76a" textLength="16.8" lengthAdjust="spacingAndGlyphs" >(3,5)</text>
<text x="415.7" y="736.4" font-size="8.6" style="fill:#86b84e" textLength="47.3" lengthAdjust="spacingAndGlyphs" >D,F,G,N,O,P</text>
<text x="421" y="745.9" font-size="8.6" style="fill:#86b84e" textLength="37.5" lengthAdjust="spacingAndGlyphs" >(4,1,4,3,1)</text>
<text x="311.8" y="703.5" font-size="8.6" textLength="63.0" lengthAdjust="spacingAndGlyphs" >87 haplogroups</text>
<text x="467.8" y="585" font-size="8.6" style="fill:#27b9c3" textLength="47.3" lengthAdjust="spacingAndGlyphs" >H,I,J,K,T,U,V</text>
<text x="461.8" y="595.2" font-size="8.6" style="fill:#27b9c3" textLength="57.5" lengthAdjust="spacingAndGlyphs" >(32,1,9,2,4,5,1)</text>
<text x="565.9" y="589.2" font-size="8.6" style="fill:#c77fc1" textLength="15.1" lengthAdjust="spacingAndGlyphs" >L(3)</text>
<text x="592.9" y="598" font-size="8.6" style="fill:#f27a72" textLength="62.3" lengthAdjust="spacingAndGlyphs" >A,B,C,Q (1,5,2,1)</text>
<text x="624.7" y="620.1" font-size="8.6" style="fill:#bcc76a" textLength="35.1" lengthAdjust="spacingAndGlyphs" >M,R (6,5)</text>
<text x="643.7" y="644.2" font-size="8.6" style="fill:#86b84e" textLength="22.0" lengthAdjust="spacingAndGlyphs" >D,F,N</text>
<text x="643.7" y="654.1" font-size="8.6" style="fill:#86b84e" textLength="23.1" lengthAdjust="spacingAndGlyphs" >(5,1,2)</text>
<text x="526.8" y="703.5" font-size="8.6" textLength="63.0" lengthAdjust="spacingAndGlyphs" >84 haplogroups</text>
<text x="150.35" y="796.6" font-size="8.6" textLength="124.5" lengthAdjust="spacingAndGlyphs" >Mitochondrial genetic ancestry</text>
<text x="212.3" y="806.9" font-size="8.6" text-anchor="middle" textLength="123" lengthAdjust="spacingAndGlyphs">haplogrouping (<tspan font-style="italic">Homo sapiens</tspan>)</text>
<rect x="112" y="818.2" width="62.0" height="15.8" fill="#ab67b6"/>
<text x="131.20000000000002" y="828" font-size="8.6" textLength="28.2" lengthAdjust="spacingAndGlyphs" >African</text>
<rect x="180.3" y="818.2" width="61.0" height="15.8" fill="#f1726c"/>
<text x="193.75" y="828" font-size="8.6" textLength="37.9" lengthAdjust="spacingAndGlyphs" >American</text>
<rect x="248.4" y="818.2" width="61.9" height="15.8" fill="#dde47c"/>
<text x="269.55" y="828" font-size="8.6" textLength="21.5" lengthAdjust="spacingAndGlyphs" >Asian</text>
<rect x="140.8" y="841.4" width="62.0" height="16.6" fill="#78ad3f"/>
<text x="153.0" y="851" font-size="8.6" textLength="37.6" lengthAdjust="spacingAndGlyphs" >EastAsian</text>
<rect x="210.8" y="841.4" width="62.0" height="16.6" fill="#55c5cb"/>
<text x="220.45000000000002" y="851" font-size="8.6" textLength="45.9" lengthAdjust="spacingAndGlyphs" >Euro-Indian</text>
<text x="383.0" y="796.7" font-size="8.6" textLength="206.0" lengthAdjust="spacingAndGlyphs" >Relative abundance of human mitochondrial reads:</text>
<text x="397.5" y="809.2" font-size="8.6" textLength="176.0" lengthAdjust="spacingAndGlyphs" >Florida, forest, 1 week, April 2023: 0.0001%</text>
<text x="391.0" y="821.7" font-size="8.6" textLength="189.0" lengthAdjust="spacingAndGlyphs" >Ireland, Dublin City, 1 week, July 2023: 0.002%</text>
<text x="392.0" y="834.7" font-size="8.6" textLength="187.0" lengthAdjust="spacingAndGlyphs" >Ireland, Dublin City, 1 week, July 2024: 0.001%</text>
<g fill="#0d0d0d">
<ellipse cx="50.9" cy="776.3" rx="5.0" ry="5.6"/>
<path d="M47.9,781.0 L47.1,784.7 L42.6,786.8 L40.0,789.4 L38.1,791.0 L36.8,788.1 L37.1,783.7 L39.7,779.7 L39.2,778.7 L37.1,780.5 L37.3,776.6 L36.3,775.0 L34.7,774.7 L33.1,776.0 L32.4,778.7 L32.9,782.3 L32.5,791.3 L33.1,796.0 L35.2,797.3 L38.4,796.0 L41.5,793.4 L42.9,795.5 L43.4,803.1 L42.6,808.4 L41.7,813.9 L42.3,820.2 L43.6,828.1 L44.4,833.3 L45.0,838.6 L46.0,844.6 L44.4,847.8 L42.1,850.4 L42.3,853.0 L47.9,852.2 L50.7,848.0 L50.5,841.2 L51.0,833.3 L51.5,825.4 L52.3,817.8 L53.1,817.0 L53.6,825.4 L53.9,833.3 L54.4,841.2 L54.7,847.8 L55.5,852.2 L59.2,854.6 L60.7,852.2 L58.9,847.8 L58.9,841.2 L59.7,833.3 L60.2,825.4 L61.5,817.8 L62.3,818.6 L63.6,814.9 L64.1,808.4 L63.5,800.5 L62.8,792.9 L61.0,788.1 L58.1,786.0 L54.4,784.7 L53.9,781.0 Z"/>
<ellipse cx="80.0" cy="779.7" rx="4.6" ry="5.2"/>
<path d="M79.8,774.5 L76.2,776.6 L74.9,782.1 L76.2,787.3 L75.2,790.0 L72.3,791.0 L71.2,796.5 L70.2,804.4 L69.4,811.0 L68.9,816.5 L70.1,819.1 L71.1,817.0 L72.0,809.7 L73.2,803.4 L74.3,798.4 L75.3,802.6 L73.9,808.4 L72.6,813.9 L73.2,820.2 L74.5,828.1 L75.8,835.9 L76.9,843.8 L75.8,847.8 L73.5,850.4 L74.5,852.1 L78.6,849.1 L80.8,845.8 L80.2,839.9 L80.7,830.7 L81.5,821.5 L82.1,817.8 L83.9,822.8 L85.7,830.7 L88.3,838.6 L90.9,845.1 L92.0,849.1 L95.5,853.4 L97.9,852.4 L97.0,849.1 L94.4,845.1 L92.4,835.9 L91.1,828.1 L89.8,820.2 L89.1,813.9 L87.4,807.0 L86.5,802.6 L87.1,798.1 L88.5,803.4 L89.4,809.9 L90.4,808.4 L91.1,804.4 L89.8,796.5 L89.1,791.5 L85.8,789.4 L85.6,784.7 L85.2,779.5 L83.2,776.2 Z" fill="#1a1a1a"/>
</g>
<path d="M59.2,800.5 L59.7,811.0" stroke="#fff" stroke-width="0.5" fill="none"/>
</svg>
</body></html>
